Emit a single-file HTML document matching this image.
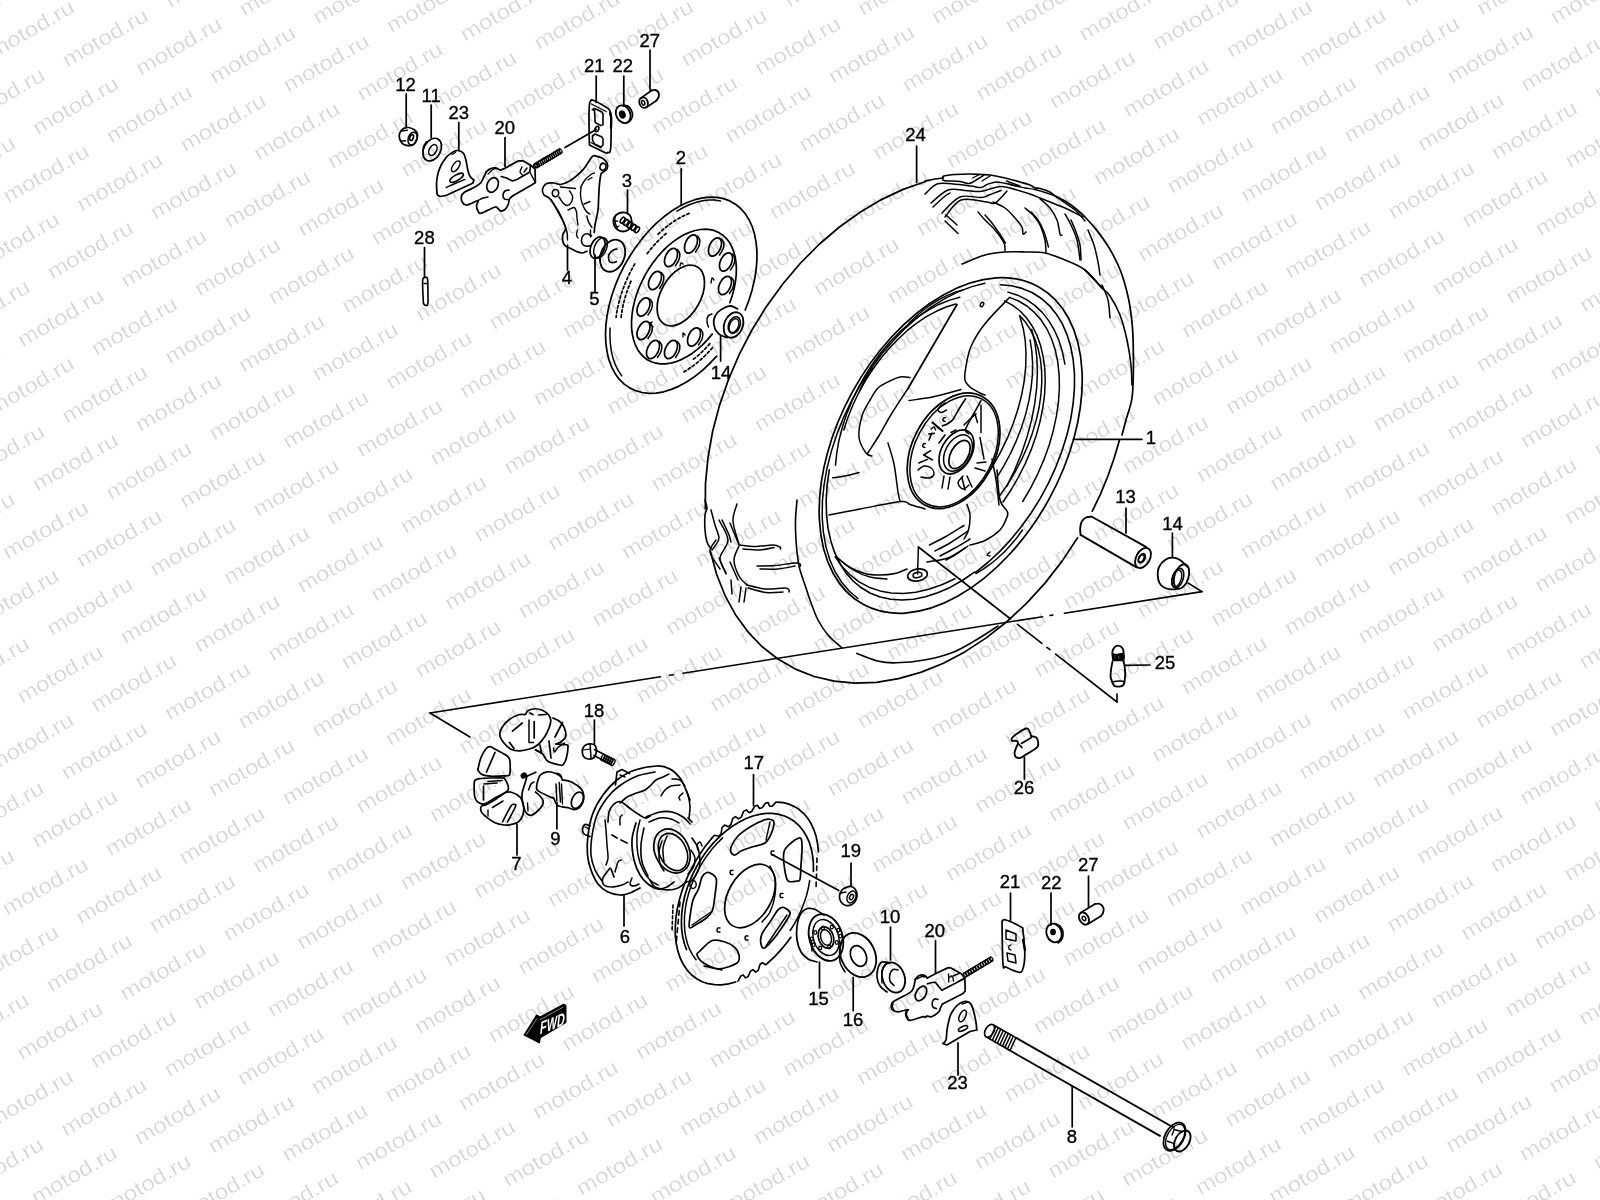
<!DOCTYPE html>
<html><head><meta charset="utf-8"><style>
html,body{margin:0;padding:0;background:#fff;width:1600px;height:1200px;overflow:hidden}
svg{position:absolute;left:0;top:0}
</style></head><body>
<svg width="1600" height="1200" viewBox="0 0 1600 1200" style="filter:grayscale(1)">
<rect width="1600" height="1200" fill="#fff"/>
<g font-family="Liberation Sans, sans-serif" font-size="21" fill="#d2d2d2" letter-spacing="0" stroke="#fff" stroke-width="0.35">
<text transform="translate(1511.5 -52.1) rotate(-30) scale(1.15 1)">motod.ru</text>
<text transform="translate(1585.2 -43.7) rotate(-30) scale(1.15 1)">motod.ru</text>
<text transform="translate(1658.8 -35.2) rotate(-30) scale(1.15 1)">motod.ru</text>
<text transform="translate(892.7 -51.8) rotate(-30) scale(1.15 1)">motod.ru</text>
<text transform="translate(966.3 -43.4) rotate(-30) scale(1.15 1)">motod.ru</text>
<text transform="translate(1040 -34.9) rotate(-30) scale(1.15 1)">motod.ru</text>
<text transform="translate(1113.7 -26.5) rotate(-30) scale(1.15 1)">motod.ru</text>
<text transform="translate(1187.3 -18) rotate(-30) scale(1.15 1)">motod.ru</text>
<text transform="translate(1261 -9.6) rotate(-30) scale(1.15 1)">motod.ru</text>
<text transform="translate(1334.6 -1.1) rotate(-30) scale(1.15 1)">motod.ru</text>
<text transform="translate(1408.3 7.3) rotate(-30) scale(1.15 1)">motod.ru</text>
<text transform="translate(1482 15.8) rotate(-30) scale(1.15 1)">motod.ru</text>
<text transform="translate(1555.6 24.2) rotate(-30) scale(1.15 1)">motod.ru</text>
<text transform="translate(1629.3 32.7) rotate(-30) scale(1.15 1)">motod.ru</text>
<text transform="translate(200.2 -60) rotate(-30) scale(1.15 1)">motod.ru</text>
<text transform="translate(273.8 -51.5) rotate(-30) scale(1.15 1)">motod.ru</text>
<text transform="translate(347.5 -43.1) rotate(-30) scale(1.15 1)">motod.ru</text>
<text transform="translate(421.2 -34.6) rotate(-30) scale(1.15 1)">motod.ru</text>
<text transform="translate(494.8 -26.2) rotate(-30) scale(1.15 1)">motod.ru</text>
<text transform="translate(568.5 -17.7) rotate(-30) scale(1.15 1)">motod.ru</text>
<text transform="translate(642.1 -9.3) rotate(-30) scale(1.15 1)">motod.ru</text>
<text transform="translate(715.8 -0.8) rotate(-30) scale(1.15 1)">motod.ru</text>
<text transform="translate(789.5 7.6) rotate(-30) scale(1.15 1)">motod.ru</text>
<text transform="translate(863.1 16.1) rotate(-30) scale(1.15 1)">motod.ru</text>
<text transform="translate(936.8 24.5) rotate(-30) scale(1.15 1)">motod.ru</text>
<text transform="translate(1010.4 33) rotate(-30) scale(1.15 1)">motod.ru</text>
<text transform="translate(1084.1 41.4) rotate(-30) scale(1.15 1)">motod.ru</text>
<text transform="translate(1157.8 49.9) rotate(-30) scale(1.15 1)">motod.ru</text>
<text transform="translate(1231.4 58.3) rotate(-30) scale(1.15 1)">motod.ru</text>
<text transform="translate(1305.1 66.8) rotate(-30) scale(1.15 1)">motod.ru</text>
<text transform="translate(1378.7 75.2) rotate(-30) scale(1.15 1)">motod.ru</text>
<text transform="translate(1452.4 83.7) rotate(-30) scale(1.15 1)">motod.ru</text>
<text transform="translate(1526.1 92.1) rotate(-30) scale(1.15 1)">motod.ru</text>
<text transform="translate(1599.7 100.6) rotate(-30) scale(1.15 1)">motod.ru</text>
<text transform="translate(1673.4 109) rotate(-30) scale(1.15 1)">motod.ru</text>
<text transform="translate(-50.4 -17.4) rotate(-30) scale(1.15 1)">motod.ru</text>
<text transform="translate(23.3 -9) rotate(-30) scale(1.15 1)">motod.ru</text>
<text transform="translate(97 -0.5) rotate(-30) scale(1.15 1)">motod.ru</text>
<text transform="translate(170.6 7.9) rotate(-30) scale(1.15 1)">motod.ru</text>
<text transform="translate(244.3 16.4) rotate(-30) scale(1.15 1)">motod.ru</text>
<text transform="translate(317.9 24.8) rotate(-30) scale(1.15 1)">motod.ru</text>
<text transform="translate(391.6 33.3) rotate(-30) scale(1.15 1)">motod.ru</text>
<text transform="translate(465.3 41.7) rotate(-30) scale(1.15 1)">motod.ru</text>
<text transform="translate(538.9 50.2) rotate(-30) scale(1.15 1)">motod.ru</text>
<text transform="translate(612.6 58.6) rotate(-30) scale(1.15 1)">motod.ru</text>
<text transform="translate(686.2 67.1) rotate(-30) scale(1.15 1)">motod.ru</text>
<text transform="translate(759.9 75.5) rotate(-30) scale(1.15 1)">motod.ru</text>
<text transform="translate(833.6 84) rotate(-30) scale(1.15 1)">motod.ru</text>
<text transform="translate(907.2 92.4) rotate(-30) scale(1.15 1)">motod.ru</text>
<text transform="translate(980.9 100.9) rotate(-30) scale(1.15 1)">motod.ru</text>
<text transform="translate(1054.5 109.3) rotate(-30) scale(1.15 1)">motod.ru</text>
<text transform="translate(1128.2 117.8) rotate(-30) scale(1.15 1)">motod.ru</text>
<text transform="translate(1201.9 126.2) rotate(-30) scale(1.15 1)">motod.ru</text>
<text transform="translate(1275.5 134.7) rotate(-30) scale(1.15 1)">motod.ru</text>
<text transform="translate(1349.2 143.1) rotate(-30) scale(1.15 1)">motod.ru</text>
<text transform="translate(1422.8 151.6) rotate(-30) scale(1.15 1)">motod.ru</text>
<text transform="translate(1496.5 160) rotate(-30) scale(1.15 1)">motod.ru</text>
<text transform="translate(1570.2 168.5) rotate(-30) scale(1.15 1)">motod.ru</text>
<text transform="translate(1643.8 176.9) rotate(-30) scale(1.15 1)">motod.ru</text>
<text transform="translate(-79.9 50.5) rotate(-30) scale(1.15 1)">motod.ru</text>
<text transform="translate(-6.3 59) rotate(-30) scale(1.15 1)">motod.ru</text>
<text transform="translate(67.4 67.4) rotate(-30) scale(1.15 1)">motod.ru</text>
<text transform="translate(141.1 75.9) rotate(-30) scale(1.15 1)">motod.ru</text>
<text transform="translate(214.7 84.3) rotate(-30) scale(1.15 1)">motod.ru</text>
<text transform="translate(288.4 92.8) rotate(-30) scale(1.15 1)">motod.ru</text>
<text transform="translate(362 101.2) rotate(-30) scale(1.15 1)">motod.ru</text>
<text transform="translate(435.7 109.7) rotate(-30) scale(1.15 1)">motod.ru</text>
<text transform="translate(509.4 118.1) rotate(-30) scale(1.15 1)">motod.ru</text>
<text transform="translate(583 126.5) rotate(-30) scale(1.15 1)">motod.ru</text>
<text transform="translate(656.7 135) rotate(-30) scale(1.15 1)">motod.ru</text>
<text transform="translate(730.3 143.4) rotate(-30) scale(1.15 1)">motod.ru</text>
<text transform="translate(804 151.9) rotate(-30) scale(1.15 1)">motod.ru</text>
<text transform="translate(877.7 160.3) rotate(-30) scale(1.15 1)">motod.ru</text>
<text transform="translate(951.3 168.8) rotate(-30) scale(1.15 1)">motod.ru</text>
<text transform="translate(1025 177.2) rotate(-30) scale(1.15 1)">motod.ru</text>
<text transform="translate(1098.6 185.7) rotate(-30) scale(1.15 1)">motod.ru</text>
<text transform="translate(1172.3 194.1) rotate(-30) scale(1.15 1)">motod.ru</text>
<text transform="translate(1246 202.6) rotate(-30) scale(1.15 1)">motod.ru</text>
<text transform="translate(1319.6 211) rotate(-30) scale(1.15 1)">motod.ru</text>
<text transform="translate(1393.3 219.5) rotate(-30) scale(1.15 1)">motod.ru</text>
<text transform="translate(1466.9 227.9) rotate(-30) scale(1.15 1)">motod.ru</text>
<text transform="translate(1540.6 236.4) rotate(-30) scale(1.15 1)">motod.ru</text>
<text transform="translate(1614.3 244.8) rotate(-30) scale(1.15 1)">motod.ru</text>
<text transform="translate(-109.5 118.4) rotate(-30) scale(1.15 1)">motod.ru</text>
<text transform="translate(-35.8 126.9) rotate(-30) scale(1.15 1)">motod.ru</text>
<text transform="translate(37.8 135.3) rotate(-30) scale(1.15 1)">motod.ru</text>
<text transform="translate(111.5 143.8) rotate(-30) scale(1.15 1)">motod.ru</text>
<text transform="translate(185.2 152.2) rotate(-30) scale(1.15 1)">motod.ru</text>
<text transform="translate(258.8 160.7) rotate(-30) scale(1.15 1)">motod.ru</text>
<text transform="translate(332.5 169.1) rotate(-30) scale(1.15 1)">motod.ru</text>
<text transform="translate(406.1 177.6) rotate(-30) scale(1.15 1)">motod.ru</text>
<text transform="translate(479.8 186) rotate(-30) scale(1.15 1)">motod.ru</text>
<text transform="translate(553.5 194.5) rotate(-30) scale(1.15 1)">motod.ru</text>
<text transform="translate(627.1 202.9) rotate(-30) scale(1.15 1)">motod.ru</text>
<text transform="translate(700.8 211.4) rotate(-30) scale(1.15 1)">motod.ru</text>
<text transform="translate(774.4 219.8) rotate(-30) scale(1.15 1)">motod.ru</text>
<text transform="translate(848.1 228.3) rotate(-30) scale(1.15 1)">motod.ru</text>
<text transform="translate(921.8 236.7) rotate(-30) scale(1.15 1)">motod.ru</text>
<text transform="translate(995.4 245.2) rotate(-30) scale(1.15 1)">motod.ru</text>
<text transform="translate(1069.1 253.6) rotate(-30) scale(1.15 1)">motod.ru</text>
<text transform="translate(1142.7 262.1) rotate(-30) scale(1.15 1)">motod.ru</text>
<text transform="translate(1216.4 270.5) rotate(-30) scale(1.15 1)">motod.ru</text>
<text transform="translate(1290.1 279) rotate(-30) scale(1.15 1)">motod.ru</text>
<text transform="translate(1363.7 287.4) rotate(-30) scale(1.15 1)">motod.ru</text>
<text transform="translate(1437.4 295.9) rotate(-30) scale(1.15 1)">motod.ru</text>
<text transform="translate(1511 304.3) rotate(-30) scale(1.15 1)">motod.ru</text>
<text transform="translate(1584.7 312.8) rotate(-30) scale(1.15 1)">motod.ru</text>
<text transform="translate(1658.4 321.2) rotate(-30) scale(1.15 1)">motod.ru</text>
<text transform="translate(-65.4 194.8) rotate(-30) scale(1.15 1)">motod.ru</text>
<text transform="translate(8.3 203.2) rotate(-30) scale(1.15 1)">motod.ru</text>
<text transform="translate(81.9 211.7) rotate(-30) scale(1.15 1)">motod.ru</text>
<text transform="translate(155.6 220.1) rotate(-30) scale(1.15 1)">motod.ru</text>
<text transform="translate(229.3 228.6) rotate(-30) scale(1.15 1)">motod.ru</text>
<text transform="translate(302.9 237) rotate(-30) scale(1.15 1)">motod.ru</text>
<text transform="translate(376.6 245.5) rotate(-30) scale(1.15 1)">motod.ru</text>
<text transform="translate(450.2 253.9) rotate(-30) scale(1.15 1)">motod.ru</text>
<text transform="translate(523.9 262.4) rotate(-30) scale(1.15 1)">motod.ru</text>
<text transform="translate(597.6 270.8) rotate(-30) scale(1.15 1)">motod.ru</text>
<text transform="translate(671.2 279.3) rotate(-30) scale(1.15 1)">motod.ru</text>
<text transform="translate(744.9 287.7) rotate(-30) scale(1.15 1)">motod.ru</text>
<text transform="translate(818.5 296.2) rotate(-30) scale(1.15 1)">motod.ru</text>
<text transform="translate(892.2 304.6) rotate(-30) scale(1.15 1)">motod.ru</text>
<text transform="translate(965.9 313.1) rotate(-30) scale(1.15 1)">motod.ru</text>
<text transform="translate(1039.5 321.5) rotate(-30) scale(1.15 1)">motod.ru</text>
<text transform="translate(1113.2 330) rotate(-30) scale(1.15 1)">motod.ru</text>
<text transform="translate(1186.8 338.4) rotate(-30) scale(1.15 1)">motod.ru</text>
<text transform="translate(1260.5 346.9) rotate(-30) scale(1.15 1)">motod.ru</text>
<text transform="translate(1334.2 355.3) rotate(-30) scale(1.15 1)">motod.ru</text>
<text transform="translate(1407.8 363.8) rotate(-30) scale(1.15 1)">motod.ru</text>
<text transform="translate(1481.5 372.2) rotate(-30) scale(1.15 1)">motod.ru</text>
<text transform="translate(1555.1 380.7) rotate(-30) scale(1.15 1)">motod.ru</text>
<text transform="translate(1628.8 389.1) rotate(-30) scale(1.15 1)">motod.ru</text>
<text transform="translate(-94.9 262.7) rotate(-30) scale(1.15 1)">motod.ru</text>
<text transform="translate(-21.3 271.1) rotate(-30) scale(1.15 1)">motod.ru</text>
<text transform="translate(52.4 279.6) rotate(-30) scale(1.15 1)">motod.ru</text>
<text transform="translate(126 288) rotate(-30) scale(1.15 1)">motod.ru</text>
<text transform="translate(199.7 296.5) rotate(-30) scale(1.15 1)">motod.ru</text>
<text transform="translate(273.4 304.9) rotate(-30) scale(1.15 1)">motod.ru</text>
<text transform="translate(347 313.4) rotate(-30) scale(1.15 1)">motod.ru</text>
<text transform="translate(420.7 321.8) rotate(-30) scale(1.15 1)">motod.ru</text>
<text transform="translate(494.3 330.3) rotate(-30) scale(1.15 1)">motod.ru</text>
<text transform="translate(568 338.7) rotate(-30) scale(1.15 1)">motod.ru</text>
<text transform="translate(641.7 347.2) rotate(-30) scale(1.15 1)">motod.ru</text>
<text transform="translate(715.3 355.6) rotate(-30) scale(1.15 1)">motod.ru</text>
<text transform="translate(789 364.1) rotate(-30) scale(1.15 1)">motod.ru</text>
<text transform="translate(862.6 372.5) rotate(-30) scale(1.15 1)">motod.ru</text>
<text transform="translate(936.3 381) rotate(-30) scale(1.15 1)">motod.ru</text>
<text transform="translate(1010 389.4) rotate(-30) scale(1.15 1)">motod.ru</text>
<text transform="translate(1083.6 397.9) rotate(-30) scale(1.15 1)">motod.ru</text>
<text transform="translate(1157.3 406.3) rotate(-30) scale(1.15 1)">motod.ru</text>
<text transform="translate(1230.9 414.8) rotate(-30) scale(1.15 1)">motod.ru</text>
<text transform="translate(1304.6 423.2) rotate(-30) scale(1.15 1)">motod.ru</text>
<text transform="translate(1378.3 431.7) rotate(-30) scale(1.15 1)">motod.ru</text>
<text transform="translate(1451.9 440.1) rotate(-30) scale(1.15 1)">motod.ru</text>
<text transform="translate(1525.6 448.6) rotate(-30) scale(1.15 1)">motod.ru</text>
<text transform="translate(1599.2 457) rotate(-30) scale(1.15 1)">motod.ru</text>
<text transform="translate(1672.9 465.5) rotate(-30) scale(1.15 1)">motod.ru</text>
<text transform="translate(-50.8 339) rotate(-30) scale(1.15 1)">motod.ru</text>
<text transform="translate(22.8 347.5) rotate(-30) scale(1.15 1)">motod.ru</text>
<text transform="translate(96.5 355.9) rotate(-30) scale(1.15 1)">motod.ru</text>
<text transform="translate(170.1 364.4) rotate(-30) scale(1.15 1)">motod.ru</text>
<text transform="translate(243.8 372.8) rotate(-30) scale(1.15 1)">motod.ru</text>
<text transform="translate(317.5 381.3) rotate(-30) scale(1.15 1)">motod.ru</text>
<text transform="translate(391.1 389.7) rotate(-30) scale(1.15 1)">motod.ru</text>
<text transform="translate(464.8 398.2) rotate(-30) scale(1.15 1)">motod.ru</text>
<text transform="translate(538.4 406.6) rotate(-30) scale(1.15 1)">motod.ru</text>
<text transform="translate(612.1 415.1) rotate(-30) scale(1.15 1)">motod.ru</text>
<text transform="translate(685.8 423.5) rotate(-30) scale(1.15 1)">motod.ru</text>
<text transform="translate(759.4 432) rotate(-30) scale(1.15 1)">motod.ru</text>
<text transform="translate(833.1 440.4) rotate(-30) scale(1.15 1)">motod.ru</text>
<text transform="translate(906.7 448.9) rotate(-30) scale(1.15 1)">motod.ru</text>
<text transform="translate(980.4 457.3) rotate(-30) scale(1.15 1)">motod.ru</text>
<text transform="translate(1054.1 465.8) rotate(-30) scale(1.15 1)">motod.ru</text>
<text transform="translate(1127.7 474.2) rotate(-30) scale(1.15 1)">motod.ru</text>
<text transform="translate(1201.4 482.7) rotate(-30) scale(1.15 1)">motod.ru</text>
<text transform="translate(1275 491.1) rotate(-30) scale(1.15 1)">motod.ru</text>
<text transform="translate(1348.7 499.6) rotate(-30) scale(1.15 1)">motod.ru</text>
<text transform="translate(1422.4 508) rotate(-30) scale(1.15 1)">motod.ru</text>
<text transform="translate(1496 516.5) rotate(-30) scale(1.15 1)">motod.ru</text>
<text transform="translate(1569.7 524.9) rotate(-30) scale(1.15 1)">motod.ru</text>
<text transform="translate(1643.3 533.4) rotate(-30) scale(1.15 1)">motod.ru</text>
<text transform="translate(-80.4 406.9) rotate(-30) scale(1.15 1)">motod.ru</text>
<text transform="translate(-6.7 415.4) rotate(-30) scale(1.15 1)">motod.ru</text>
<text transform="translate(66.9 423.8) rotate(-30) scale(1.15 1)">motod.ru</text>
<text transform="translate(140.6 432.3) rotate(-30) scale(1.15 1)">motod.ru</text>
<text transform="translate(214.2 440.7) rotate(-30) scale(1.15 1)">motod.ru</text>
<text transform="translate(287.9 449.2) rotate(-30) scale(1.15 1)">motod.ru</text>
<text transform="translate(361.6 457.6) rotate(-30) scale(1.15 1)">motod.ru</text>
<text transform="translate(435.2 466.1) rotate(-30) scale(1.15 1)">motod.ru</text>
<text transform="translate(508.9 474.5) rotate(-30) scale(1.15 1)">motod.ru</text>
<text transform="translate(582.5 483) rotate(-30) scale(1.15 1)">motod.ru</text>
<text transform="translate(656.2 491.4) rotate(-30) scale(1.15 1)">motod.ru</text>
<text transform="translate(729.9 499.9) rotate(-30) scale(1.15 1)">motod.ru</text>
<text transform="translate(803.5 508.3) rotate(-30) scale(1.15 1)">motod.ru</text>
<text transform="translate(877.2 516.8) rotate(-30) scale(1.15 1)">motod.ru</text>
<text transform="translate(950.8 525.2) rotate(-30) scale(1.15 1)">motod.ru</text>
<text transform="translate(1024.5 533.7) rotate(-30) scale(1.15 1)">motod.ru</text>
<text transform="translate(1098.2 542.1) rotate(-30) scale(1.15 1)">motod.ru</text>
<text transform="translate(1171.8 550.6) rotate(-30) scale(1.15 1)">motod.ru</text>
<text transform="translate(1245.5 559) rotate(-30) scale(1.15 1)">motod.ru</text>
<text transform="translate(1319.1 567.5) rotate(-30) scale(1.15 1)">motod.ru</text>
<text transform="translate(1392.8 575.9) rotate(-30) scale(1.15 1)">motod.ru</text>
<text transform="translate(1466.5 584.4) rotate(-30) scale(1.15 1)">motod.ru</text>
<text transform="translate(1540.1 592.8) rotate(-30) scale(1.15 1)">motod.ru</text>
<text transform="translate(1613.8 601.3) rotate(-30) scale(1.15 1)">motod.ru</text>
<text transform="translate(-110 474.9) rotate(-30) scale(1.15 1)">motod.ru</text>
<text transform="translate(-36.3 483.3) rotate(-30) scale(1.15 1)">motod.ru</text>
<text transform="translate(37.4 491.8) rotate(-30) scale(1.15 1)">motod.ru</text>
<text transform="translate(111 500.2) rotate(-30) scale(1.15 1)">motod.ru</text>
<text transform="translate(184.7 508.7) rotate(-30) scale(1.15 1)">motod.ru</text>
<text transform="translate(258.3 517.1) rotate(-30) scale(1.15 1)">motod.ru</text>
<text transform="translate(332 525.6) rotate(-30) scale(1.15 1)">motod.ru</text>
<text transform="translate(405.7 534) rotate(-30) scale(1.15 1)">motod.ru</text>
<text transform="translate(479.3 542.5) rotate(-30) scale(1.15 1)">motod.ru</text>
<text transform="translate(553 550.9) rotate(-30) scale(1.15 1)">motod.ru</text>
<text transform="translate(626.6 559.4) rotate(-30) scale(1.15 1)">motod.ru</text>
<text transform="translate(700.3 567.8) rotate(-30) scale(1.15 1)">motod.ru</text>
<text transform="translate(774 576.3) rotate(-30) scale(1.15 1)">motod.ru</text>
<text transform="translate(847.6 584.7) rotate(-30) scale(1.15 1)">motod.ru</text>
<text transform="translate(921.3 593.2) rotate(-30) scale(1.15 1)">motod.ru</text>
<text transform="translate(994.9 601.6) rotate(-30) scale(1.15 1)">motod.ru</text>
<text transform="translate(1068.6 610.1) rotate(-30) scale(1.15 1)">motod.ru</text>
<text transform="translate(1142.3 618.5) rotate(-30) scale(1.15 1)">motod.ru</text>
<text transform="translate(1215.9 627) rotate(-30) scale(1.15 1)">motod.ru</text>
<text transform="translate(1289.6 635.4) rotate(-30) scale(1.15 1)">motod.ru</text>
<text transform="translate(1363.2 643.9) rotate(-30) scale(1.15 1)">motod.ru</text>
<text transform="translate(1436.9 652.3) rotate(-30) scale(1.15 1)">motod.ru</text>
<text transform="translate(1510.6 660.8) rotate(-30) scale(1.15 1)">motod.ru</text>
<text transform="translate(1584.2 669.2) rotate(-30) scale(1.15 1)">motod.ru</text>
<text transform="translate(1657.9 677.7) rotate(-30) scale(1.15 1)">motod.ru</text>
<text transform="translate(-65.9 551.2) rotate(-30) scale(1.15 1)">motod.ru</text>
<text transform="translate(7.8 559.7) rotate(-30) scale(1.15 1)">motod.ru</text>
<text transform="translate(81.5 568.1) rotate(-30) scale(1.15 1)">motod.ru</text>
<text transform="translate(155.1 576.6) rotate(-30) scale(1.15 1)">motod.ru</text>
<text transform="translate(228.8 585) rotate(-30) scale(1.15 1)">motod.ru</text>
<text transform="translate(302.4 593.5) rotate(-30) scale(1.15 1)">motod.ru</text>
<text transform="translate(376.1 601.9) rotate(-30) scale(1.15 1)">motod.ru</text>
<text transform="translate(449.8 610.4) rotate(-30) scale(1.15 1)">motod.ru</text>
<text transform="translate(523.4 618.8) rotate(-30) scale(1.15 1)">motod.ru</text>
<text transform="translate(597.1 627.3) rotate(-30) scale(1.15 1)">motod.ru</text>
<text transform="translate(670.7 635.7) rotate(-30) scale(1.15 1)">motod.ru</text>
<text transform="translate(744.4 644.2) rotate(-30) scale(1.15 1)">motod.ru</text>
<text transform="translate(818.1 652.6) rotate(-30) scale(1.15 1)">motod.ru</text>
<text transform="translate(891.7 661.1) rotate(-30) scale(1.15 1)">motod.ru</text>
<text transform="translate(965.4 669.5) rotate(-30) scale(1.15 1)">motod.ru</text>
<text transform="translate(1039 678) rotate(-30) scale(1.15 1)">motod.ru</text>
<text transform="translate(1112.7 686.4) rotate(-30) scale(1.15 1)">motod.ru</text>
<text transform="translate(1186.4 694.9) rotate(-30) scale(1.15 1)">motod.ru</text>
<text transform="translate(1260 703.3) rotate(-30) scale(1.15 1)">motod.ru</text>
<text transform="translate(1333.7 711.8) rotate(-30) scale(1.15 1)">motod.ru</text>
<text transform="translate(1407.3 720.2) rotate(-30) scale(1.15 1)">motod.ru</text>
<text transform="translate(1481 728.7) rotate(-30) scale(1.15 1)">motod.ru</text>
<text transform="translate(1554.7 737.1) rotate(-30) scale(1.15 1)">motod.ru</text>
<text transform="translate(1628.3 745.6) rotate(-30) scale(1.15 1)">motod.ru</text>
<text transform="translate(-95.4 619.1) rotate(-30) scale(1.15 1)">motod.ru</text>
<text transform="translate(-21.8 627.6) rotate(-30) scale(1.15 1)">motod.ru</text>
<text transform="translate(51.9 636) rotate(-30) scale(1.15 1)">motod.ru</text>
<text transform="translate(125.6 644.5) rotate(-30) scale(1.15 1)">motod.ru</text>
<text transform="translate(199.2 652.9) rotate(-30) scale(1.15 1)">motod.ru</text>
<text transform="translate(272.9 661.4) rotate(-30) scale(1.15 1)">motod.ru</text>
<text transform="translate(346.5 669.8) rotate(-30) scale(1.15 1)">motod.ru</text>
<text transform="translate(420.2 678.3) rotate(-30) scale(1.15 1)">motod.ru</text>
<text transform="translate(493.9 686.7) rotate(-30) scale(1.15 1)">motod.ru</text>
<text transform="translate(567.5 695.2) rotate(-30) scale(1.15 1)">motod.ru</text>
<text transform="translate(641.2 703.6) rotate(-30) scale(1.15 1)">motod.ru</text>
<text transform="translate(714.8 712.1) rotate(-30) scale(1.15 1)">motod.ru</text>
<text transform="translate(788.5 720.5) rotate(-30) scale(1.15 1)">motod.ru</text>
<text transform="translate(862.2 729) rotate(-30) scale(1.15 1)">motod.ru</text>
<text transform="translate(935.8 737.4) rotate(-30) scale(1.15 1)">motod.ru</text>
<text transform="translate(1009.5 745.9) rotate(-30) scale(1.15 1)">motod.ru</text>
<text transform="translate(1083.1 754.3) rotate(-30) scale(1.15 1)">motod.ru</text>
<text transform="translate(1156.8 762.8) rotate(-30) scale(1.15 1)">motod.ru</text>
<text transform="translate(1230.5 771.2) rotate(-30) scale(1.15 1)">motod.ru</text>
<text transform="translate(1304.1 779.7) rotate(-30) scale(1.15 1)">motod.ru</text>
<text transform="translate(1377.8 788.1) rotate(-30) scale(1.15 1)">motod.ru</text>
<text transform="translate(1451.4 796.6) rotate(-30) scale(1.15 1)">motod.ru</text>
<text transform="translate(1525.1 805) rotate(-30) scale(1.15 1)">motod.ru</text>
<text transform="translate(1598.8 813.5) rotate(-30) scale(1.15 1)">motod.ru</text>
<text transform="translate(1672.4 821.9) rotate(-30) scale(1.15 1)">motod.ru</text>
<text transform="translate(-51.3 695.5) rotate(-30) scale(1.15 1)">motod.ru</text>
<text transform="translate(22.3 703.9) rotate(-30) scale(1.15 1)">motod.ru</text>
<text transform="translate(96 712.4) rotate(-30) scale(1.15 1)">motod.ru</text>
<text transform="translate(169.7 720.8) rotate(-30) scale(1.15 1)">motod.ru</text>
<text transform="translate(243.3 729.3) rotate(-30) scale(1.15 1)">motod.ru</text>
<text transform="translate(317 737.7) rotate(-30) scale(1.15 1)">motod.ru</text>
<text transform="translate(390.6 746.2) rotate(-30) scale(1.15 1)">motod.ru</text>
<text transform="translate(464.3 754.6) rotate(-30) scale(1.15 1)">motod.ru</text>
<text transform="translate(538 763.1) rotate(-30) scale(1.15 1)">motod.ru</text>
<text transform="translate(611.6 771.5) rotate(-30) scale(1.15 1)">motod.ru</text>
<text transform="translate(685.3 780) rotate(-30) scale(1.15 1)">motod.ru</text>
<text transform="translate(758.9 788.4) rotate(-30) scale(1.15 1)">motod.ru</text>
<text transform="translate(832.6 796.9) rotate(-30) scale(1.15 1)">motod.ru</text>
<text transform="translate(906.3 805.3) rotate(-30) scale(1.15 1)">motod.ru</text>
<text transform="translate(979.9 813.8) rotate(-30) scale(1.15 1)">motod.ru</text>
<text transform="translate(1053.6 822.2) rotate(-30) scale(1.15 1)">motod.ru</text>
<text transform="translate(1127.2 830.7) rotate(-30) scale(1.15 1)">motod.ru</text>
<text transform="translate(1200.9 839.1) rotate(-30) scale(1.15 1)">motod.ru</text>
<text transform="translate(1274.6 847.6) rotate(-30) scale(1.15 1)">motod.ru</text>
<text transform="translate(1348.2 856) rotate(-30) scale(1.15 1)">motod.ru</text>
<text transform="translate(1421.9 864.5) rotate(-30) scale(1.15 1)">motod.ru</text>
<text transform="translate(1495.5 872.9) rotate(-30) scale(1.15 1)">motod.ru</text>
<text transform="translate(1569.2 881.4) rotate(-30) scale(1.15 1)">motod.ru</text>
<text transform="translate(1642.9 889.8) rotate(-30) scale(1.15 1)">motod.ru</text>
<text transform="translate(-80.9 763.4) rotate(-30) scale(1.15 1)">motod.ru</text>
<text transform="translate(-7.2 771.8) rotate(-30) scale(1.15 1)">motod.ru</text>
<text transform="translate(66.4 780.3) rotate(-30) scale(1.15 1)">motod.ru</text>
<text transform="translate(140.1 788.7) rotate(-30) scale(1.15 1)">motod.ru</text>
<text transform="translate(213.8 797.2) rotate(-30) scale(1.15 1)">motod.ru</text>
<text transform="translate(287.4 805.6) rotate(-30) scale(1.15 1)">motod.ru</text>
<text transform="translate(361.1 814.1) rotate(-30) scale(1.15 1)">motod.ru</text>
<text transform="translate(434.7 822.5) rotate(-30) scale(1.15 1)">motod.ru</text>
<text transform="translate(508.4 831) rotate(-30) scale(1.15 1)">motod.ru</text>
<text transform="translate(582.1 839.4) rotate(-30) scale(1.15 1)">motod.ru</text>
<text transform="translate(655.7 847.9) rotate(-30) scale(1.15 1)">motod.ru</text>
<text transform="translate(729.4 856.3) rotate(-30) scale(1.15 1)">motod.ru</text>
<text transform="translate(803 864.8) rotate(-30) scale(1.15 1)">motod.ru</text>
<text transform="translate(876.7 873.2) rotate(-30) scale(1.15 1)">motod.ru</text>
<text transform="translate(950.4 881.7) rotate(-30) scale(1.15 1)">motod.ru</text>
<text transform="translate(1024 890.1) rotate(-30) scale(1.15 1)">motod.ru</text>
<text transform="translate(1097.7 898.6) rotate(-30) scale(1.15 1)">motod.ru</text>
<text transform="translate(1171.3 907) rotate(-30) scale(1.15 1)">motod.ru</text>
<text transform="translate(1245 915.5) rotate(-30) scale(1.15 1)">motod.ru</text>
<text transform="translate(1318.7 923.9) rotate(-30) scale(1.15 1)">motod.ru</text>
<text transform="translate(1392.3 932.4) rotate(-30) scale(1.15 1)">motod.ru</text>
<text transform="translate(1466 940.8) rotate(-30) scale(1.15 1)">motod.ru</text>
<text transform="translate(1539.6 949.3) rotate(-30) scale(1.15 1)">motod.ru</text>
<text transform="translate(1613.3 957.7) rotate(-30) scale(1.15 1)">motod.ru</text>
<text transform="translate(-110.4 831.3) rotate(-30) scale(1.15 1)">motod.ru</text>
<text transform="translate(-36.8 839.8) rotate(-30) scale(1.15 1)">motod.ru</text>
<text transform="translate(36.9 848.2) rotate(-30) scale(1.15 1)">motod.ru</text>
<text transform="translate(110.5 856.7) rotate(-30) scale(1.15 1)">motod.ru</text>
<text transform="translate(184.2 865.1) rotate(-30) scale(1.15 1)">motod.ru</text>
<text transform="translate(257.9 873.6) rotate(-30) scale(1.15 1)">motod.ru</text>
<text transform="translate(331.5 882) rotate(-30) scale(1.15 1)">motod.ru</text>
<text transform="translate(405.2 890.5) rotate(-30) scale(1.15 1)">motod.ru</text>
<text transform="translate(478.8 898.9) rotate(-30) scale(1.15 1)">motod.ru</text>
<text transform="translate(552.5 907.4) rotate(-30) scale(1.15 1)">motod.ru</text>
<text transform="translate(626.2 915.8) rotate(-30) scale(1.15 1)">motod.ru</text>
<text transform="translate(699.8 924.3) rotate(-30) scale(1.15 1)">motod.ru</text>
<text transform="translate(773.5 932.7) rotate(-30) scale(1.15 1)">motod.ru</text>
<text transform="translate(847.1 941.2) rotate(-30) scale(1.15 1)">motod.ru</text>
<text transform="translate(920.8 949.6) rotate(-30) scale(1.15 1)">motod.ru</text>
<text transform="translate(994.5 958.1) rotate(-30) scale(1.15 1)">motod.ru</text>
<text transform="translate(1068.1 966.5) rotate(-30) scale(1.15 1)">motod.ru</text>
<text transform="translate(1141.8 975) rotate(-30) scale(1.15 1)">motod.ru</text>
<text transform="translate(1215.4 983.4) rotate(-30) scale(1.15 1)">motod.ru</text>
<text transform="translate(1289.1 991.9) rotate(-30) scale(1.15 1)">motod.ru</text>
<text transform="translate(1362.8 1000.3) rotate(-30) scale(1.15 1)">motod.ru</text>
<text transform="translate(1436.4 1008.8) rotate(-30) scale(1.15 1)">motod.ru</text>
<text transform="translate(1510.1 1017.2) rotate(-30) scale(1.15 1)">motod.ru</text>
<text transform="translate(1583.7 1025.7) rotate(-30) scale(1.15 1)">motod.ru</text>
<text transform="translate(1657.4 1034.1) rotate(-30) scale(1.15 1)">motod.ru</text>
<text transform="translate(-66.3 907.7) rotate(-30) scale(1.15 1)">motod.ru</text>
<text transform="translate(7.3 916.1) rotate(-30) scale(1.15 1)">motod.ru</text>
<text transform="translate(81 924.6) rotate(-30) scale(1.15 1)">motod.ru</text>
<text transform="translate(154.6 933) rotate(-30) scale(1.15 1)">motod.ru</text>
<text transform="translate(228.3 941.5) rotate(-30) scale(1.15 1)">motod.ru</text>
<text transform="translate(302 949.9) rotate(-30) scale(1.15 1)">motod.ru</text>
<text transform="translate(375.6 958.4) rotate(-30) scale(1.15 1)">motod.ru</text>
<text transform="translate(449.3 966.8) rotate(-30) scale(1.15 1)">motod.ru</text>
<text transform="translate(522.9 975.3) rotate(-30) scale(1.15 1)">motod.ru</text>
<text transform="translate(596.6 983.7) rotate(-30) scale(1.15 1)">motod.ru</text>
<text transform="translate(670.3 992.2) rotate(-30) scale(1.15 1)">motod.ru</text>
<text transform="translate(743.9 1000.6) rotate(-30) scale(1.15 1)">motod.ru</text>
<text transform="translate(817.6 1009.1) rotate(-30) scale(1.15 1)">motod.ru</text>
<text transform="translate(891.2 1017.5) rotate(-30) scale(1.15 1)">motod.ru</text>
<text transform="translate(964.9 1026) rotate(-30) scale(1.15 1)">motod.ru</text>
<text transform="translate(1038.6 1034.4) rotate(-30) scale(1.15 1)">motod.ru</text>
<text transform="translate(1112.2 1042.9) rotate(-30) scale(1.15 1)">motod.ru</text>
<text transform="translate(1185.9 1051.3) rotate(-30) scale(1.15 1)">motod.ru</text>
<text transform="translate(1259.5 1059.8) rotate(-30) scale(1.15 1)">motod.ru</text>
<text transform="translate(1333.2 1068.2) rotate(-30) scale(1.15 1)">motod.ru</text>
<text transform="translate(1406.9 1076.7) rotate(-30) scale(1.15 1)">motod.ru</text>
<text transform="translate(1480.5 1085.1) rotate(-30) scale(1.15 1)">motod.ru</text>
<text transform="translate(1554.2 1093.6) rotate(-30) scale(1.15 1)">motod.ru</text>
<text transform="translate(1627.8 1102) rotate(-30) scale(1.15 1)">motod.ru</text>
<text transform="translate(-95.9 975.6) rotate(-30) scale(1.15 1)">motod.ru</text>
<text transform="translate(-22.2 984) rotate(-30) scale(1.15 1)">motod.ru</text>
<text transform="translate(51.4 992.5) rotate(-30) scale(1.15 1)">motod.ru</text>
<text transform="translate(125.1 1000.9) rotate(-30) scale(1.15 1)">motod.ru</text>
<text transform="translate(198.7 1009.4) rotate(-30) scale(1.15 1)">motod.ru</text>
<text transform="translate(272.4 1017.8) rotate(-30) scale(1.15 1)">motod.ru</text>
<text transform="translate(346.1 1026.3) rotate(-30) scale(1.15 1)">motod.ru</text>
<text transform="translate(419.7 1034.7) rotate(-30) scale(1.15 1)">motod.ru</text>
<text transform="translate(493.4 1043.2) rotate(-30) scale(1.15 1)">motod.ru</text>
<text transform="translate(567 1051.6) rotate(-30) scale(1.15 1)">motod.ru</text>
<text transform="translate(640.7 1060.1) rotate(-30) scale(1.15 1)">motod.ru</text>
<text transform="translate(714.4 1068.5) rotate(-30) scale(1.15 1)">motod.ru</text>
<text transform="translate(788 1077) rotate(-30) scale(1.15 1)">motod.ru</text>
<text transform="translate(861.7 1085.4) rotate(-30) scale(1.15 1)">motod.ru</text>
<text transform="translate(935.3 1093.9) rotate(-30) scale(1.15 1)">motod.ru</text>
<text transform="translate(1009 1102.3) rotate(-30) scale(1.15 1)">motod.ru</text>
<text transform="translate(1082.7 1110.8) rotate(-30) scale(1.15 1)">motod.ru</text>
<text transform="translate(1156.3 1119.2) rotate(-30) scale(1.15 1)">motod.ru</text>
<text transform="translate(1230 1127.7) rotate(-30) scale(1.15 1)">motod.ru</text>
<text transform="translate(1303.6 1136.1) rotate(-30) scale(1.15 1)">motod.ru</text>
<text transform="translate(1377.3 1144.6) rotate(-30) scale(1.15 1)">motod.ru</text>
<text transform="translate(1451 1153) rotate(-30) scale(1.15 1)">motod.ru</text>
<text transform="translate(1524.6 1161.5) rotate(-30) scale(1.15 1)">motod.ru</text>
<text transform="translate(1598.3 1169.9) rotate(-30) scale(1.15 1)">motod.ru</text>
<text transform="translate(1671.9 1178.4) rotate(-30) scale(1.15 1)">motod.ru</text>
<text transform="translate(-51.8 1051.9) rotate(-30) scale(1.15 1)">motod.ru</text>
<text transform="translate(21.9 1060.4) rotate(-30) scale(1.15 1)">motod.ru</text>
<text transform="translate(95.5 1068.8) rotate(-30) scale(1.15 1)">motod.ru</text>
<text transform="translate(169.2 1077.3) rotate(-30) scale(1.15 1)">motod.ru</text>
<text transform="translate(242.8 1085.7) rotate(-30) scale(1.15 1)">motod.ru</text>
<text transform="translate(316.5 1094.2) rotate(-30) scale(1.15 1)">motod.ru</text>
<text transform="translate(390.2 1102.6) rotate(-30) scale(1.15 1)">motod.ru</text>
<text transform="translate(463.8 1111.1) rotate(-30) scale(1.15 1)">motod.ru</text>
<text transform="translate(537.5 1119.5) rotate(-30) scale(1.15 1)">motod.ru</text>
<text transform="translate(611.1 1128) rotate(-30) scale(1.15 1)">motod.ru</text>
<text transform="translate(684.8 1136.4) rotate(-30) scale(1.15 1)">motod.ru</text>
<text transform="translate(758.5 1144.9) rotate(-30) scale(1.15 1)">motod.ru</text>
<text transform="translate(832.1 1153.3) rotate(-30) scale(1.15 1)">motod.ru</text>
<text transform="translate(905.8 1161.8) rotate(-30) scale(1.15 1)">motod.ru</text>
<text transform="translate(979.4 1170.2) rotate(-30) scale(1.15 1)">motod.ru</text>
<text transform="translate(1053.1 1178.7) rotate(-30) scale(1.15 1)">motod.ru</text>
<text transform="translate(1126.8 1187.1) rotate(-30) scale(1.15 1)">motod.ru</text>
<text transform="translate(1200.4 1195.6) rotate(-30) scale(1.15 1)">motod.ru</text>
<text transform="translate(1274.1 1204) rotate(-30) scale(1.15 1)">motod.ru</text>
<text transform="translate(1347.7 1212.5) rotate(-30) scale(1.15 1)">motod.ru</text>
<text transform="translate(1421.4 1220.9) rotate(-30) scale(1.15 1)">motod.ru</text>
<text transform="translate(1495.1 1229.4) rotate(-30) scale(1.15 1)">motod.ru</text>
<text transform="translate(1568.7 1237.8) rotate(-30) scale(1.15 1)">motod.ru</text>
<text transform="translate(1642.4 1246.3) rotate(-30) scale(1.15 1)">motod.ru</text>
<text transform="translate(-81.4 1119.8) rotate(-30) scale(1.15 1)">motod.ru</text>
<text transform="translate(-7.7 1128.3) rotate(-30) scale(1.15 1)">motod.ru</text>
<text transform="translate(66 1136.8) rotate(-30) scale(1.15 1)">motod.ru</text>
<text transform="translate(139.6 1145.2) rotate(-30) scale(1.15 1)">motod.ru</text>
<text transform="translate(213.3 1153.7) rotate(-30) scale(1.15 1)">motod.ru</text>
<text transform="translate(286.9 1162.1) rotate(-30) scale(1.15 1)">motod.ru</text>
<text transform="translate(360.6 1170.5) rotate(-30) scale(1.15 1)">motod.ru</text>
<text transform="translate(434.3 1179) rotate(-30) scale(1.15 1)">motod.ru</text>
<text transform="translate(507.9 1187.5) rotate(-30) scale(1.15 1)">motod.ru</text>
<text transform="translate(581.6 1195.9) rotate(-30) scale(1.15 1)">motod.ru</text>
<text transform="translate(655.2 1204.3) rotate(-30) scale(1.15 1)">motod.ru</text>
<text transform="translate(728.9 1212.8) rotate(-30) scale(1.15 1)">motod.ru</text>
<text transform="translate(802.6 1221.2) rotate(-30) scale(1.15 1)">motod.ru</text>
<text transform="translate(876.2 1229.7) rotate(-30) scale(1.15 1)">motod.ru</text>
<text transform="translate(949.9 1238.2) rotate(-30) scale(1.15 1)">motod.ru</text>
<text transform="translate(1023.5 1246.6) rotate(-30) scale(1.15 1)">motod.ru</text>
<text transform="translate(1097.2 1255) rotate(-30) scale(1.15 1)">motod.ru</text>
<text transform="translate(1170.9 1263.5) rotate(-30) scale(1.15 1)">motod.ru</text>
<text transform="translate(1244.5 1272) rotate(-30) scale(1.15 1)">motod.ru</text>
<text transform="translate(1318.2 1280.4) rotate(-30) scale(1.15 1)">motod.ru</text>
<text transform="translate(1391.8 1288.8) rotate(-30) scale(1.15 1)">motod.ru</text>
<text transform="translate(-110.9 1187.8) rotate(-30) scale(1.15 1)">motod.ru</text>
<text transform="translate(-37.3 1196.2) rotate(-30) scale(1.15 1)">motod.ru</text>
<text transform="translate(36.4 1204.7) rotate(-30) scale(1.15 1)">motod.ru</text>
<text transform="translate(110.1 1213.1) rotate(-30) scale(1.15 1)">motod.ru</text>
<text transform="translate(183.7 1221.6) rotate(-30) scale(1.15 1)">motod.ru</text>
<text transform="translate(257.4 1230) rotate(-30) scale(1.15 1)">motod.ru</text>
<text transform="translate(331 1238.5) rotate(-30) scale(1.15 1)">motod.ru</text>
<text transform="translate(404.7 1246.9) rotate(-30) scale(1.15 1)">motod.ru</text>
<text transform="translate(478.4 1255.4) rotate(-30) scale(1.15 1)">motod.ru</text>
<text transform="translate(552 1263.8) rotate(-30) scale(1.15 1)">motod.ru</text>
<text transform="translate(625.7 1272.3) rotate(-30) scale(1.15 1)">motod.ru</text>
<text transform="translate(699.3 1280.7) rotate(-30) scale(1.15 1)">motod.ru</text>
<text transform="translate(773 1289.2) rotate(-30) scale(1.15 1)">motod.ru</text>
<text transform="translate(-66.8 1264.1) rotate(-30) scale(1.15 1)">motod.ru</text>
<text transform="translate(6.8 1272.6) rotate(-30) scale(1.15 1)">motod.ru</text>
<text transform="translate(80.5 1281) rotate(-30) scale(1.15 1)">motod.ru</text>
<text transform="translate(154.2 1289.5) rotate(-30) scale(1.15 1)">motod.ru</text>
</g>
<g fill="none" stroke="#000" stroke-width="1.5" stroke-linecap="round" stroke-linejoin="round">
<path d="M406.2 93.8L406.2 127.5" stroke-width="1.72"/>
<path d="M431.2 105L431.2 137.5" stroke-width="1.72"/>
<path d="M458.8 122.5L458.8 150" stroke-width="1.72"/>
<path d="M505 137.5L505 166.2" stroke-width="1.72"/>
<path d="M596.2 76.2L596.2 102.5" stroke-width="1.72"/>
<path d="M623.8 76.2L623.8 106.2" stroke-width="1.72"/>
<path d="M650 50L650 90" stroke-width="1.72"/>
<path d="M681.2 168.8L681.2 205" stroke-width="1.72"/>
<path d="M627.5 190L627.5 213.8" stroke-width="1.72"/>
<path d="M424.5 247.5L424.5 277.5" stroke-width="1.72"/>
<path d="M567.5 245L567.5 270" stroke-width="1.72"/>
<path d="M595 255L595 291.2" stroke-width="1.72"/>
<path d="M916.6 146L916.6 182.5" stroke-width="1.72"/>
<path d="M1073.4 439.4L1141.9 439.4" stroke-width="1.72"/>
<path d="M1126 508L1126 533" stroke-width="1.72"/>
<path d="M1172.4 533L1172.4 557" stroke-width="1.72"/>
<path d="M1125 665.4L1150 665" stroke-width="1.72"/>
<path d="M925 181.8 L903.1 189.4 L881.4 199.6 L860.1 212.2 L839.4 227 L819.5 244 L800.6 263 L783 283.7 L766.8 305.9 L752.2 329.5 L739.4 354.1 L728.5 379.5 L719.5 405.4 L712.6 431.5 L708 457.6 L705.5 483.4 L705.3 508.7" stroke-width="1.72"/>
<path d="M710.5 551.7 L716.6 574.3 L724.9 595.3 L735.3 614.4 L747.7 631.6 L761.9 646.5 L777.9 659 L795.4 669.1 L814.2 676.5 L834.1 681.2 L855 683.2 L876.5 682.3 L898.5 678.7 L920.7 672.4 L942.9 663.5 L964.8 651.9 L986.2 637.9 L1006.8 621.7 L1026.5 603.3 L1045 583.1 L1062.1 561.1 L1077.6 537.7" stroke-width="1.72"/>
<path d="M1092.3 511.2 L1100.6 493.8 L1107.9 476 L1114.2 458 L1119.5 439.9" stroke-width="1.72"/>
<path d="M705 500C705.3 501.3 707 505.5 707 508C707 510.5 705.3 511.3 705 515C704.7 518.7 704.7 525.5 705 530C705.3 534.5 706 538.8 707 542C708 545.2 710.3 547.8 711 549" stroke-width="1.61"/>
<path d="M943 178C943.2 177.7 942 176.6 944 176C946 175.4 950.7 174.8 955 174.5C959.3 174.2 965.7 174 970 174C974.3 174 977.7 174.3 981 174.5C984.3 174.7 986 174.4 990 175C994 175.6 1000 176.8 1005 178C1010 179.2 1015.8 180.8 1020 182C1024.2 183.2 1027.5 184 1030 185C1032.5 186 1033.3 187.4 1035 188C1036.7 188.6 1037.5 187.8 1040 188.5C1042.5 189.2 1047.5 190.8 1050 192C1052.5 193.2 1052.5 194.5 1055 196C1057.5 197.5 1061.7 199 1065 201C1068.3 203 1071.7 205.3 1075 208C1078.3 210.7 1081.3 213.2 1085 217C1088.7 220.8 1092.8 225.2 1097 230.6C1101.2 236 1106 242.5 1110 249.4C1114 256.3 1117.9 263.6 1121 272C1124.1 280.4 1126.8 290.7 1128.8 300C1130.7 309.3 1131.7 318.7 1132.5 328C1133.3 337.3 1133.2 349 1133.4 356C1133.6 363 1133.6 363 1133.4 370C1133.2 377 1133.2 389.7 1132 398C1130.8 406.3 1127.7 413.8 1126 420C1124.3 426.2 1122.7 432.5 1122 435" stroke-width="1.72"/>
<path d="M925 181C926.7 180.7 932 179.5 935 179C938 178.5 941.7 178.2 943 178" stroke-width="1.72"/>
<path d="M943 178C943.2 178.4 941.2 179.9 944 180.5C946.8 181.1 955.8 181 960 181.5C964.2 182 966.2 183.8 969 183.5C971.8 183.2 974.5 180.9 977 179.5C979.5 178.1 982.8 175.8 984 175" stroke-width="1.49"/>
<path d="M925 194C927 192.3 932.3 185.7 937 184C941.7 182.3 947.3 183.7 953 184C958.7 184.3 966.3 185.4 971 186C975.7 186.6 978.3 187.8 981 187.5C983.7 187.2 984.3 185.4 987 184.5C989.7 183.6 993.2 182 997 182C1000.8 182 1005.3 183.5 1010 184.5C1014.7 185.5 1020.8 187.2 1025 188C1029.2 188.8 1030.8 188.5 1035 189.5C1039.2 190.5 1046.3 192.8 1050 194C1053.7 195.2 1055.8 196.5 1057 197" stroke-width="1.49"/>
<path d="M931 203C933.8 200.8 942.3 192.1 948 190C953.7 187.9 959.7 190.2 965 190.5C970.3 190.8 975.8 191.8 980 191.5C984.2 191.2 986.7 189.8 990 189C993.3 188.2 997 186.8 1000 186.5C1003 186.2 1003 186.2 1008 187.5C1013 188.8 1024.7 192.2 1030 194C1035.3 195.8 1035.8 196.3 1040 198C1044.2 199.7 1050.8 202.3 1055 204C1059.2 205.7 1060.3 205.8 1065 208C1069.7 210.2 1080 215.5 1083 217" stroke-width="1.49"/>
<path d="M933 207C934.8 205.3 941.2 199.3 944 197C946.8 194.7 949 193.7 950 193" stroke-width="1.49"/>
<path d="M942 213C945 210.3 953.5 199.6 960 197C966.5 194.4 976.2 197.8 981 197.5C985.8 197.2 985.7 196.2 989 195C992.3 193.8 999 191.2 1001 190.5" stroke-width="1.49"/>
<path d="M945 217C947.7 214.2 954 202.5 961 200C968 197.5 981.3 201.5 987 202C992.7 202.5 991.7 204.8 995 203C998.3 201.2 1005 193 1007 191" stroke-width="1.49"/>
<path d="M945 221L958 233.5" stroke-width="1.49"/>
<path d="M946 215L957 225" stroke-width="1.49"/>
<path d="M972.5 178L979.5 174.5" stroke-width="1.38"/>
<path d="M982 181L990 176" stroke-width="1.38"/>
<path d="M1006.5 181L1020 186" stroke-width="1.38"/>
<path d="M1009 184L1018 186.5" stroke-width="1.38"/>
<path d="M978 212C979.2 213.3 982.2 217 985 220C987.8 223 991.8 226.2 995 230C998.2 233.8 1002.3 239.5 1004 243C1005.7 246.5 1004.8 249.7 1005 251" stroke-width="1.49"/>
<path d="M985 215C986.2 216.3 989.7 220 992 223C994.3 226 996.8 229.7 999 233C1001.2 236.3 1004.4 241.3 1005.5 243" stroke-width="1.49"/>
<path d="M993 202C995 203 1001.3 205.3 1005 208C1008.7 210.7 1012.2 214.8 1015 218C1017.8 221.2 1020.7 224.3 1022 227C1023.3 229.7 1022.3 233.2 1023 234C1023.7 234.8 1025.5 232.3 1026 232" stroke-width="1.49"/>
<path d="M1025 208C1026.3 209.2 1030.5 212.2 1033 215C1035.5 217.8 1038 220.8 1040 225C1042 229.2 1044 235.5 1045 240C1046 244.5 1045.8 250 1046 252" stroke-width="1.49"/>
<path d="M1031 212C1032.2 213.3 1035.8 216.7 1038 220C1040.2 223.3 1042.2 227.5 1044 232C1045.8 236.5 1047.8 244.5 1048.5 247" stroke-width="1.49"/>
<path d="M1040 199C1041.7 200.5 1047.2 204.5 1050 208C1052.8 211.5 1055.3 215.7 1057 220C1058.7 224.3 1059.2 231.5 1060 234C1060.8 236.5 1061.7 234.8 1062 235" stroke-width="1.49"/>
<path d="M1065 214C1066 215.8 1069 220.7 1071 225C1073 229.3 1075.5 234.2 1077 240C1078.5 245.8 1079.5 256.7 1080 260" stroke-width="1.49"/>
<path d="M1071 220C1071.8 222 1074.5 227.8 1076 232C1077.5 236.2 1079.2 240.3 1080 245C1080.8 249.7 1080.8 257.5 1081 260" stroke-width="1.49"/>
<path d="M1058 198C1060.8 200 1070.5 206.2 1075 210C1079.5 213.8 1083.3 219.2 1085 221" stroke-width="1.49"/>
<path d="M1088 230C1089 232.5 1092.3 239.7 1094 245C1095.7 250.3 1097 257 1098 262C1099 267 1099.7 272.8 1100 275" stroke-width="1.49"/>
<path d="M1102 285C1103 287.5 1106.7 294.5 1108 300C1109.3 305.5 1109.7 315 1110 318" stroke-width="1.49"/>
<path d="M1085 270L1102 288" stroke-width="1.49"/>
<path d="M1085 270L1102 287.5" stroke-width="1.49"/>
<path d="M962 264C965.8 262.5 977.8 257 985 255C992.2 253 998.3 252.5 1005 252C1011.7 251.5 1018.3 251.8 1025 252C1031.7 252.2 1038.3 251.7 1045 253C1051.7 254.3 1058.3 257.2 1065 260C1071.7 262.8 1078.8 265.3 1085 270C1091.2 274.7 1097.8 283.7 1102 288C1106.2 292.3 1107 291.5 1110 296C1113 300.5 1117.2 307.7 1120 315C1122.8 322.3 1125.2 331.7 1127 340C1128.8 348.3 1130.2 357.5 1131 365C1131.8 372.5 1131.8 381.7 1132 385" stroke-width="1.61"/>
<path d="M711 510C711.7 512.5 713.7 520.3 715 525C716.3 529.7 719 534.5 719 538C719 541.5 716.2 544 715 546C713.8 548 712.5 549.3 712 550" stroke-width="1.49"/>
<path d="M719 520C720.5 523.3 727.8 533.7 728 540C728.2 546.3 720.3 552.5 720 558C719.7 563.5 725 570.5 726 573" stroke-width="1.49"/>
<path d="M722 520C723.2 522.5 727.5 531.3 729 535C730.5 538.7 730.7 540.8 731 542" stroke-width="1.49"/>
<path d="M730 523L739 545" stroke-width="1.49"/>
<path d="M737 504C736.3 506.8 732.7 514.3 733 521C733.3 527.7 738 540.2 739 544" stroke-width="1.49"/>
<path d="M739 546C738.2 548.3 734 555 734 560C734 565 736.8 571.8 739 576C741.2 580.2 745.7 583.5 747 585" stroke-width="1.49"/>
<path d="M730 562L738 580" stroke-width="1.49"/>
<path d="M716 540C715 542 709.3 547.2 710 552C710.7 556.8 718.3 566.2 720 569" stroke-width="1.49"/>
<path d="M719 558L726 574" stroke-width="1.49"/>
<path d="M731 580L732 594" stroke-width="1.49"/>
<path d="M741 587L739 602" stroke-width="1.49"/>
<path d="M746 588L744 602" stroke-width="1.49"/>
<path d="M740 545C742.5 545.2 749.5 546.5 755 546.5C760.5 546.5 768.8 544.9 773 545C777.2 545.1 778.8 546.3 780 547C781.2 547.7 780.4 548.7 780.5 549" stroke-width="1.49"/>
<path d="M743 549C745.8 549.2 754.8 550.2 760 550C765.2 549.8 771.7 547.9 774 547.5" stroke-width="1.49"/>
<path d="M757 566C760 565.9 768.7 566 775 565.5C781.3 565 790.8 563.2 795 563C799.2 562.8 799.1 563.5 800 564C800.9 564.5 800.4 565.7 800.5 566" stroke-width="1.49"/>
<path d="M760 569C763 569 772.2 569.5 778 569C783.8 568.5 792.2 566.5 795 566" stroke-width="1.49"/>
<path d="M747 585C750 585.7 758.7 588.5 765 589C771.3 589.5 781 587.8 785 588C789 588.2 788.3 589.3 789 590C789.7 590.7 789 591.7 789 592" stroke-width="1.49"/>
<path d="M748 588C751 588.8 760.2 591.8 766 592.5C771.8 593.2 780.2 592.1 783 592" stroke-width="1.49"/>
<path d="M797 500C796.8 503.3 795.7 513.3 795.5 520C795.3 526.7 795.6 533.3 796 540C796.4 546.7 797.3 555 798 560C798.7 565 798.8 565.8 800 570C801.2 574.2 803.3 580 805 585C806.7 590 807.8 594.2 810 600C812.2 605.8 815 614.2 818 620C821 625.8 824 630.3 828 635C832 639.7 839.7 645.8 842 648" stroke-width="1.61"/>
<path d="M856.9 653.4C860.3 654.7 871 659.4 877.5 661C884 662.6 888.2 663 896 662.8C903.8 662.6 915 661.7 924.4 660C933.8 658.3 943.9 655.8 952.5 652.5C961.1 649.2 968.4 644.4 976 640C983.6 635.6 994.3 628.3 998 626" stroke-width="1.61"/>
<ellipse cx="950.7" cy="445.5" rx="181.4" ry="112" transform="rotate(-61.1 950.7 445.5)" stroke-width="1.72"/>
<path d="M984.9 283.3 L971.9 286.6 L958.5 291.6 L945.2 298.3 L931.8 306.6 L918.7 316.4 L905.9 327.6 L893.6 340.2 L881.9 353.8 L871 368.5 L861 384 L851.9 400.2 L843.8 416.9 L837 433.9 L831.4 451.1 L827 468.2 L824 485.1 L822.4 501.5 L822.2 517.4 L823.4 532.4 L825.9 546.6 L829.8 559.7 L835 571.5 L841.5 582 L849.1 591 L857.9 598.5" stroke-width="1.49"/>
<path d="M1000.4 284.8 L1011.6 285.8 L1022.1 288.4 L1032 292.5 L1041 298.2 L1049.1 305.3 L1056.2 313.9 L1062.2 323.7 L1067.1 334.8 L1070.8 347 L1073.2 360.1 L1074.5 374.1 L1074.4 388.8 L1073.1 404 L1070.6 419.7 L1066.8 435.5 L1061.8 451.5 L1055.7 467.3 L1048.6 482.9 L1040.4 498.1 L1031.3 512.7 L1021.4 526.5 L1010.8 539.6 L999.6 551.6 L987.9 562.5 L975.8 572.2" stroke-width="1.61"/>
<path d="M1008 292.1 L1017.6 295.2 L1026.6 299.6 L1034.8 305.4 L1042.2 312.4 L1048.7 320.6 L1054.3 330 L1058.9 340.4 L1062.4 351.8 L1064.9 364.1" stroke-width="1.49"/>
<path d="M1009.4 297.4 L1018.5 301 L1026.9 306 L1034.4 312.4 L1041.1 320 L1046.8 328.8 L1051.5 338.8 L1055.2 349.7 L1057.7 361.6 L1059.1 374.2 L1059.4 387.6 L1058.5 401.4 L1056.5 415.7 L1053.4 430.2 L1049.3 444.8 L1044 459.4 L1037.8 473.8 L1030.7 487.9 L1022.7 501.5" stroke-width="1.49"/>
<path d="M1004.6 300.9 L1012.7 305.3 L1020.1 311 L1026.6 318 L1032.3 326.2 L1037 335.4 L1040.6 345.6 L1043.2 356.8 L1044.8 368.7 L1045.2 381.2 L1044.6 394.3 L1042.8 407.8 L1040 421.6 L1036.2 435.5 L1031.3 449.4 L1025.5 463.1 L1018.8 476.5 L1011.3 489.5 L1003 502" stroke-width="1.49"/>
<path d="M1019.6 315.6 L1025.6 322.3 L1030.7 330.1 L1034.9 338.9 L1038.1 348.7 L1040.4 359.3 L1041.6 370.5 L1041.8 382.4 L1040.9 394.8 L1039.1 407.5 L1036.2 420.4 L1032.3 433.4 L1027.5 446.4 L1021.8 459.2 L1015.3 471.6 L1008.1 483.7 L1000.1 495.1" stroke-width="1.49"/>
<path d="M1031.7 329.4 L1034.9 342.7 L1036.8 357 L1037.4 372 L1036.7 387.7 L1034.7 403.9 L1031.5 420.4 L1027 437 L1021.4 453.7 L1014.6 470.2 L1006.8 486.4" stroke-width="1.49"/>
<path d="M1030.1 339.9 L1031.8 351.1 L1032.6 362.9 L1032.4 375.2 L1031.1 387.9 L1028.9 400.9 L1025.7 414.1 L1021.5 427.4 L1016.4 440.6 L1010.5 453.5 L1003.7 466.2 L996.3 478.4" stroke-width="1.49"/>
<path d="M1020 317 L1023.2 328.2 L1025.2 340.3 L1026 353.1 L1025.7 366.6 L1024.3 380.5 L1021.7 394.7 L1018 409.1 L1013.2 423.5 L1007.5 437.9 L1000.7 451.9 L993.1 465.5 L984.6 478.6" stroke-width="1.49"/>
<path d="M959.8 297.3 L949.7 300.1 L939.4 304.2 L929.2 309.6 L919 316.1 L909 323.7 L899.3 332.4 L889.9 342 L881 352.5 L872.7 363.7 L865.1 375.6 L858.2 387.9 L852.1 400.6 L846.8 413.6 L842.5 426.7 L839.1 439.7 L836.8 452.6 L835.5 465.2" stroke-width="1.49"/>
<path d="M955.8 304 L946.1 307 L936.3 311.3 L926.4 316.7 L916.7 323.2 L907.1 330.7 L897.9 339.2 L889 348.6 L880.5 358.7 L872.6 369.5 L865.3 380.9 L858.7 392.8 L852.9 405 L847.9 417.5 L843.8 430" stroke-width="1.49"/>
<path d="M963 290 L955.2 292.2 L947.4 295.4 L939.5 299.3 L931.7 304.1 L923.9 309.7 L916.4 316 L909 323" stroke-width="1.38"/>
<path d="M873 368 L869.3 373.1 L865.8 378.6 L862.7 384.2 L860 390" stroke-width="1.38"/>
<path d="M829.3 469.9 L827.1 485.3 L826.2 500.2 L826.5 514.5 L828 528.2 L830.8 540.9 L834.7 552.7 L839.8 563.4 L845.9 572.9 L853.1 581 L861.3 587.8 L870.4 593.2 L880.2 597 L890.8 599.3 L901.9 600 L913.5 599.2 L925.5 596.8 L937.7 592.8 L950 587.4 L962.3 580.5 L974.5 572.2" stroke-width="1.61"/>
<path d="M835.2 556.7 L842.1 566.5 L850.1 574.9 L859.1 581.8 L869 587.2 L879.8 590.9 L891.2 593 L903.3 593.4 L915.8 592.2 L928.7 589.3 L941.8 584.8 L955 578.7" stroke-width="1.49"/>
<path d="M976 573.5 L983.2 569.2 L990.3 564.2 L997.2 558.5 L1004 552.2 L1010.5 545.3 L1016.7 537.9 L1022.5 530" stroke-width="1.49"/>
<path d="M929.5 545C932.1 543.7 939.2 540.2 945 537C950.8 533.8 960.8 527.4 964 525.5" stroke-width="1.49"/>
<path d="M935 551C937.5 549.7 944.5 546.3 950 543C955.5 539.7 965 533 968 531" stroke-width="1.49"/>
<path d="M940 556C942.5 554.7 950 550.8 955 548C960 545.2 967.5 540.5 970 539" stroke-width="1.49"/>
<path d="M946 560C948 558.8 954.3 555.3 958 553C961.7 550.7 966.3 547.2 968 546" stroke-width="1.49"/>
<path d="M927 562C930.5 561.3 941.7 560.3 948 558C954.3 555.7 962.2 549.7 965 548" stroke-width="1.49"/>
<path d="M957 304.5L908 388.5" stroke-width="1.72"/>
<path d="M908 388.5C905.3 392.6 896.7 405.4 892 413C887.3 420.6 884 427.3 880 434C876 440.7 869.8 449.8 867.8 453"/>
<path d="M1009.5 297.5C1005.4 301.9 991.4 315.6 985 323.8C978.6 331.9 974.2 339.2 971 346.5C967.8 353.8 966.8 361.9 965.8 367.5C964.8 373.1 964.3 376.8 965 380C965.7 383.2 967.5 384.8 970 387C972.5 389.2 977.5 391.7 980 393C982.5 394.3 984.2 394.7 985 395"/>
<path d="M909 400.5C912.9 399.9 923.8 398.8 932.5 397C941.2 395.2 956.2 390.8 961 389.5"/>
<path d="M870 400C871.3 398 874.7 391.2 878 388C881.3 384.8 886.3 382.8 890 381C893.7 379.2 896.7 377.6 900 377C903.3 376.4 908.3 377.4 910 377.5"/>
<path d="M870 400C868.7 402.7 863.8 409.8 862 416C860.2 422.2 858.3 431.3 859 437.5C859.7 443.7 863.8 449.9 866 453C868.2 456.1 871 455.5 872 456"/>
<path d="M888 443C889 446.5 892.3 455.8 894 464C895.7 472.2 897 485.8 898 492C899 498.2 899.7 499.5 900 501"/>
<path d="M832.8 477.8C834.8 477.5 840.6 476.9 845 476C849.4 475.1 856.7 473.1 859 472.5"/>
<path d="M829 515C834.2 514 848 511.2 860 509C872 506.8 892.7 502.2 901 501.5C909.3 500.8 906 503.2 910 504.5C914 505.8 922.5 508.2 925 509"/>
<path d="M836.5 557C838.8 558.8 845.2 564.8 850 567.5C854.8 570.2 860 572.2 865 573.5C870 574.8 875 575 880 575C885 575 890.5 574.5 895 573.5C899.5 572.5 905 569.8 907 569" stroke-width="1.61"/>
<path d="M840 560C842.5 561.8 850 568.2 855 571C860 573.8 864.7 575.7 870 577C875.3 578.3 884.2 578.7 887 579" stroke-width="1.38"/>
<path d="M997 470C997.5 475 998.2 493 1000 500C1001.8 507 1006.5 508.8 1007.5 512C1008.5 515.2 1007.2 516.5 1006 519.5C1004.8 522.5 1003.5 526.5 1000 530C996.5 533.5 990 538 985 540.5C980 543 972.5 544.2 970 545" stroke-width="1.61"/>
<path d="M992 459C992.7 462.5 994.8 472.3 996 480C997.2 487.7 998.5 500.8 999 505" stroke-width="1.49"/>
<path d="M967 504.5C967.5 506.2 969.8 510.8 970 515C970.2 519.2 969.5 526 968.5 530C967.5 534 964.8 537.5 964 539" stroke-width="1.49"/>
<ellipse cx="982" cy="304.5" rx="1.5" ry="2.3" transform="rotate(30 982 304.5)" stroke-width="1.49"/>
<path d="M990 552C989.5 552.5 987 554.3 987 555C987 555.7 989.5 555.8 990 556" stroke-width="1.38"/>
<ellipse cx="917.5" cy="575" rx="10" ry="6" transform="rotate(-10 917.5 575)" stroke-width="1.72"/>
<ellipse cx="917.5" cy="575" rx="4.5" ry="2.6" transform="rotate(-10 917.5 575)" stroke-width="1.49"/>
<ellipse cx="953.6" cy="450.8" rx="61.4" ry="41.3" transform="rotate(-62.4 953.6 450.8)" stroke-width="1.72"/>
<ellipse cx="954.1" cy="451.3" rx="59.2" ry="39.1" transform="rotate(-62.4 954.1 451.3)" stroke-width="1.49"/>
<ellipse cx="956.5" cy="452" rx="23.7" ry="15.1" transform="rotate(-61 956.5 452)" stroke-width="1.72"/>
<ellipse cx="958" cy="453" rx="19.5" ry="12.5" transform="rotate(-61 958 453)" stroke-width="1.49"/>
<ellipse cx="959.5" cy="454.5" rx="15.5" ry="8.7" transform="rotate(-61 959.5 454.5)" stroke-width="1.72"/>
<path d="M965.6 398.8C964.5 400.5 961.1 405.6 959 409C956.9 412.4 954.8 417 953 419.4C951.2 421.8 949.8 422.4 948 423.5C946.2 424.6 943.4 425.6 942.5 426" stroke-width="1.61"/>
<path d="M981 400.6C979.7 403 975.6 410.2 973 415C970.4 419.8 966.3 426.3 965.6 429.4C964.9 432.5 968.2 433 968.8 433.8" stroke-width="1.61"/>
<path d="M976 413.8C975 414.6 972 417.1 970 419C968 420.9 965 424 964 425" stroke-width="1.49"/>
<path d="M975 414L977.5 422.5" stroke-width="1.49"/>
<path d="M981 405.6L981 432.5" stroke-width="1.49"/>
<path d="M980 437.5L984 459" stroke-width="1.49"/>
<path d="M932.5 422.5L942.5 431" stroke-width="2.07"/>
<path d="M928.8 434 L934.4 433.4" stroke-width="1.61"/>
<path d="M931.5 433.6L929 440" stroke-width="1.61"/>
<path d="M951 432.5L956 430" stroke-width="1.61"/>
<path d="M939 443L945 435" stroke-width="1.61"/>
<path d="M923.8 455L930.6 450.6" stroke-width="1.49"/>
<path d="M923.8 455L932.5 460" stroke-width="1.49"/>
<path d="M918.8 463L927.5 459.4" stroke-width="1.49"/>
<path d="M945.4 403C944.7 403.4 942.2 404.3 941 405.5C939.8 406.7 937.9 408.8 938 410C938.1 411.2 940.1 412.5 941.5 412.5C942.9 412.5 945.7 410.4 946.5 410" stroke-width="1.49"/>
<path d="M945.6 417.6C945.3 417.7 944 417.5 943.6 418C943.2 418.5 942.8 419.9 943 420.5C943.2 421.1 944.7 421.3 945 421.5" stroke-width="1.49"/>
<path d="M925.4 443.5C925.1 443.6 923.8 443.5 923.4 444C923 444.5 922.6 445.9 922.8 446.5C923 447.1 924.5 447.3 924.8 447.5" stroke-width="1.49"/>
<path d="M918 470C919 469.3 921.8 466.3 924 466C926.2 465.7 929.3 466.7 931 468C932.7 469.3 934.3 472.3 934 474C933.7 475.7 931.2 477.5 929 478C926.8 478.5 922.3 477.2 921 477" stroke-width="1.49"/>
<path d="M944 476L942 488" stroke-width="1.49"/>
<path d="M950 477L948 489" stroke-width="1.49"/>
<path d="M962 478L965 490" stroke-width="1.49"/>
<path d="M967 476L972 487" stroke-width="1.49"/>
<path d="M975 468L985 471" stroke-width="1.49"/>
<path d="M977 463L986 462" stroke-width="1.49"/>
<path d="M931 429C931.5 428.7 933.2 426.8 934 427C934.8 427.2 935.2 429.5 935.5 430" stroke-width="1.38"/>
<path d="M963 476C962.2 477.2 958 480.8 958 483C958 485.2 961.2 488.7 963 489C964.8 489.3 968 485.7 969 485" stroke-width="1.49"/>
<path d="M430 713L660.5 676.8" stroke-width="1.61"/>
<path d="M669.5 675.3L673.3 674.7" stroke-width="1.61"/>
<path d="M683 673.2L1042.5 616.7" stroke-width="1.61"/>
<path d="M1050 615.5L1052.6 615.1" stroke-width="1.61"/>
<path d="M1064.4 613.2L1202 591.6" stroke-width="1.61"/>
<path d="M1202 591.6L1188 583" stroke-width="1.61"/>
<path d="M430 713L470 737" stroke-width="1.61"/>
<path d="M917.6 574L918.4 547" stroke-width="1.49"/>
<path d="M918.4 547L1010.6 619" stroke-width="1.61"/>
<path d="M1017.5 624.3L1041.9 643.4" stroke-width="1.61"/>
<path d="M1046.9 647.3L1050 649.7" stroke-width="1.61"/>
<path d="M1055.6 654.1L1117 702" stroke-width="1.61"/>
<path d="M1117 694L1117 702" stroke-width="1.61"/>
<path d="M399.4 134.4C399.7 133.2 400.4 131.7 401.2 130.6C402.1 129.5 403.1 128.6 404.4 128.1C405.6 127.6 407.2 127.3 408.8 127.5C410.3 127.7 412.4 128.6 413.8 129.4C415.1 130.2 416.3 131.4 416.9 132.5C417.5 133.6 417.6 134.9 417.5 136.2C417.4 137.6 416.9 139.2 416.2 140.6C415.6 142 415 143.6 413.8 144.4C412.5 145.2 410.4 145.6 408.8 145.6C407.1 145.6 405.1 145.1 403.8 144.4C402.4 143.7 401.3 142.4 400.6 141.2C399.9 140.1 399.6 138.6 399.4 137.5C399.2 136.4 399.1 135.6 399.4 134.4Z" stroke-width="1.72"/>
<ellipse cx="412.6" cy="138.6" rx="4.3" ry="6.6" transform="rotate(20 412.6 138.6)" stroke-width="1.61"/>
<ellipse cx="411.6" cy="137.6" rx="1.7" ry="3" transform="rotate(20 411.6 137.6)" stroke-width="1.61"/>
<path d="M401.2 131L407.5 130.2" stroke-width="1.38"/>
<path d="M400.8 141L405.6 140.8" stroke-width="1.38"/>
<ellipse cx="432.2" cy="149.6" rx="8.4" ry="12" transform="rotate(28 432.2 149.6)" stroke-width="1.72"/>
<ellipse cx="432.9" cy="150" rx="3.6" ry="5.8" transform="rotate(28 432.9 150)" stroke-width="1.61"/>
<path d="M423.5 155C423.5 153.7 422.8 149.2 423.3 147C423.8 144.8 426 142.4 426.5 141.5" stroke-width="1.38"/>
<path d="M436.9 192.5C436.8 190.8 436.4 185.7 436.6 182.5C436.8 179.3 437.3 176 438.1 173.1C438.9 170.2 439.9 167.6 441.2 165C442.6 162.4 444.6 159.5 446.2 157.5C447.9 155.5 449.6 154.2 451.2 153.1C452.9 151.9 454.7 150.9 456.2 150.6C457.8 150.3 459.4 150.7 460.6 151.2C461.9 151.8 462.9 152.5 463.8 153.8C464.6 155 465.1 156.9 465.6 158.8C466.1 160.6 466.5 162.9 466.9 165C467.3 167.1 467.6 169.4 468.1 171.2C468.6 173.1 469.1 174.8 470 176.2C470.9 177.7 473.1 179.4 473.8 180" stroke-width="1.72"/>
<path d="M473.8 180 L473 183 L471 184 L446 195.5 L440 196.5 L437.5 195 L436.9 192.5" stroke-width="1.72"/>
<path d="M446.2 187.5C447.7 186.8 451.9 184.8 455 183.5C458.1 182.2 463.3 180.1 465 179.4" stroke-width="1.38"/>
<ellipse cx="455.8" cy="166.3" rx="2.9" ry="6.2" transform="rotate(35 455.8 166.3)" stroke-width="1.61"/>
<ellipse cx="456.6" cy="177.8" rx="7.6" ry="2.8" transform="rotate(-30 456.6 177.8)" stroke-width="1.61"/>
<path d="M452 154.5L455.5 152.5" stroke-width="1.38"/>
<path d="M486.2 172C486.9 171.5 488.5 169.7 490 169C491.5 168.3 493.5 167.7 495.2 167.9C497 168.1 499.6 169.7 500.5 170.1" stroke-width="1.72"/>
<path d="M500.5 170.1 L505 168.2 L518.5 160.8 L523 160.8 L530.5 165.2 L535 169 L535.4 182.5 L532 184.8 L512.5 196" stroke-width="1.72"/>
<path d="M512.5 196C512 196.5 510.2 197.5 509.5 199C508.8 200.5 508.8 203.2 508 205C507.2 206.8 506.2 208.5 505 209.5C503.8 210.5 501.8 211.2 500.5 211C499.2 210.8 498.5 208.6 497.5 208C496.5 207.4 497.2 206.4 494.5 207.2C491.8 208.1 483.8 212.6 481 213.2C478.2 213.9 478.8 212.2 478 211C477.2 209.8 476.5 207.5 476.5 205.8C476.5 204 478.9 200.9 478 200.5C477.1 200.1 473.2 202.8 471.2 203.5C469.2 204.2 467.5 205.2 466 205C464.5 204.8 463 203.5 462.2 202C461.5 200.5 461.1 197.6 461.5 196C461.9 194.4 462.2 193.8 464.5 192.2C466.8 190.8 472.2 188.6 475 187C477.8 185.4 479.5 184.2 481 182.5C482.5 180.8 483.1 178.2 484 176.5C484.9 174.8 485.9 172.8 486.2 172" stroke-width="1.72"/>
<path d="M501.2 176.5 L506.5 178 L512.5 181 L517 179.5 L529.8 172 L530.5 165.2" stroke-width="1.61"/>
<path d="M529.8 172L535.4 182.5" stroke-width="1.38"/>
<ellipse cx="492.6" cy="185" rx="5.4" ry="7.6" transform="rotate(25 492.6 185)" stroke-width="1.72"/>
<path d="M509 190C508.3 190.2 506 190.2 505 191C504 191.8 503.1 193.7 503 195C502.9 196.3 503.7 198.2 504.5 199C505.3 199.8 507.4 199.4 508 199.5" stroke-width="1.61"/>
<path d="M488 174C488.8 173.2 491.6 170.4 493 169.5C494.4 168.6 495.9 168.7 496.5 168.5" stroke-width="1.38"/>
<path d="M478 200.5C478.8 200.1 481.3 198.6 483 198C484.7 197.4 487.2 197.2 488 197" stroke-width="1.38"/>
<path d="M522 167C521.7 167.8 519.9 170.7 520 172C520.1 173.3 522.1 174.5 522.5 175" stroke-width="1.38"/>
<path d="M524 172L527 168" stroke-width="1.38"/>
<ellipse cx="536" cy="165.5" rx="1.1" ry="2.6" transform="rotate(-30.6 536 165.5)" stroke-width="1.26"/>
<ellipse cx="537.9" cy="164.4" rx="1.1" ry="2.6" transform="rotate(-30.6 537.9 164.4)" stroke-width="1.26"/>
<ellipse cx="539.8" cy="163.3" rx="1.1" ry="2.6" transform="rotate(-30.6 539.8 163.3)" stroke-width="1.26"/>
<ellipse cx="541.7" cy="162.2" rx="1.1" ry="2.6" transform="rotate(-30.6 541.7 162.2)" stroke-width="1.26"/>
<ellipse cx="543.5" cy="161" rx="1.1" ry="2.6" transform="rotate(-30.6 543.5 161)" stroke-width="1.26"/>
<ellipse cx="545.4" cy="159.9" rx="1.1" ry="2.6" transform="rotate(-30.6 545.4 159.9)" stroke-width="1.26"/>
<ellipse cx="547.3" cy="158.8" rx="1.1" ry="2.6" transform="rotate(-30.6 547.3 158.8)" stroke-width="1.26"/>
<ellipse cx="549.2" cy="157.7" rx="1.1" ry="2.6" transform="rotate(-30.6 549.2 157.7)" stroke-width="1.26"/>
<ellipse cx="551.1" cy="156.6" rx="1.1" ry="2.6" transform="rotate(-30.6 551.1 156.6)" stroke-width="1.26"/>
<ellipse cx="553" cy="155.5" rx="1.1" ry="2.6" transform="rotate(-30.6 553 155.5)" stroke-width="1.26"/>
<ellipse cx="554.8" cy="154.3" rx="1.1" ry="2.6" transform="rotate(-30.6 554.8 154.3)" stroke-width="1.26"/>
<ellipse cx="556.7" cy="153.2" rx="1.1" ry="2.6" transform="rotate(-30.6 556.7 153.2)" stroke-width="1.26"/>
<ellipse cx="558.6" cy="152.1" rx="1.1" ry="2.6" transform="rotate(-30.6 558.6 152.1)" stroke-width="1.26"/>
<ellipse cx="560.5" cy="151" rx="1.1" ry="2.6" transform="rotate(-30.6 560.5 151)" stroke-width="1.26"/>
<path d="M535.5 163.5L560 149.4" stroke-width="1.15"/>
<path d="M537 167.8L561.2 153.2" stroke-width="1.15"/>
<ellipse cx="535.8" cy="165.6" rx="1.8" ry="2.4" transform="rotate(60 535.8 165.6)" stroke-width="1.49"/>
<path d="M565 147.6L596.2 129.4" stroke-width="1.72"/>
<path d="M589.4 145C589.3 140.8 589 126.7 589 120C589 113.3 589.1 108.1 589.4 105C589.7 101.9 590 102 590.6 101.2C591.2 100.5 590.3 99.2 593.1 100.3C595.9 101.4 604.7 106.3 607.5 108.1C610.3 109.9 609.4 109.7 610 111.2C610.6 112.8 610.9 111.2 611 117.5C611.1 123.8 611.2 142.9 610.6 148.8C610 154.6 608.4 151.9 607.5 152.5C606.6 153.1 608 153.8 605 152.5C602 151.2 592 146.2 589.4 145" stroke-width="1.72"/>
<path d="M591.5 104 L606 111.5" stroke-width="1.38"/>
<path d="M610 113C610.2 113.8 611 115.5 611.2 118C611.4 120.5 611 126.3 611 128" stroke-width="2.3"/>
<path d="M592.5 109.5 L594.5 108.5 L602 112 L603 114 L603 124.5 L601 125.6 L595.2 122.5 L594.5 110.5Z" stroke-width="1.61"/>
<path d="M592.5 136 L595 134 L602 137 L603 139 L603 145 L601 147 L594.5 144 L592.5 140Z" stroke-width="1.61"/>
<ellipse cx="596.9" cy="129" rx="1.8" ry="2.8" transform="rotate(20 596.9 129)" stroke-width="1.61"/>
<path d="M591 142.5L601 148" stroke-width="1.38"/>
<ellipse cx="623.2" cy="114.2" rx="7" ry="9.2" transform="rotate(-25 623.2 114.2)" stroke-width="1.84"/>
<path d="M624 105.3C624.8 105.5 627.2 105.6 628.5 106.5C629.8 107.4 630.8 109 631.5 110.5C632.2 112 632.7 113.8 632.5 115.5C632.3 117.2 631.5 119.2 630.5 120.5C629.5 121.8 627.2 122.6 626.5 123" stroke-width="1.72"/>
<ellipse cx="622.3" cy="114.5" rx="2.5" ry="3.3" transform="rotate(-20 622.3 114.5)" stroke-width="1.72" fill="#000"/>
<ellipse cx="643.6" cy="102.6" rx="4.2" ry="5.4" transform="rotate(-20 643.6 102.6)" stroke-width="1.84"/>
<path d="M640.2 98.6 L651.5 90.5" stroke-width="1.72"/>
<path d="M646.5 107.4 L656.5 100.5" stroke-width="1.72"/>
<path d="M651.5 90.5C652.2 90.4 654.3 89.7 655.5 90C656.7 90.3 658 91.4 658.5 92.5C659 93.6 659.1 95.2 658.8 96.5C658.5 97.8 656.9 99.8 656.5 100.5" stroke-width="1.84"/>
<ellipse cx="643.2" cy="102.8" rx="1.5" ry="2.4" transform="rotate(-20 643.2 102.8)" stroke-width="1.49"/>
<path d="M594.2 232.5C594.4 231.2 594.4 228.8 595 225C595.6 221.2 597.4 215 598 210C598.6 205 598.5 199.4 598.8 195C599 190.6 599.1 187.2 599.5 183.8C599.9 180.2 600.5 175.9 601 174C601.5 172.1 601.5 173.4 602.5 172.5C603.5 171.6 606.2 170.4 607 168.8C607.8 167.1 607.8 164.5 607 162.8C606.2 161 604.2 159.3 602.5 158.2C600.8 157.2 598.1 156.6 596.5 156.2C594.9 155.8 594 155.2 592.8 156C591.5 156.8 590.5 159.1 589 161.2C587.5 163.4 585.9 166.2 583.8 168.8C581.6 171.2 578.8 174.1 576.2 176.2C573.8 178.4 571.4 180.1 568.8 181.5C566.1 182.9 563 184.2 560.5 184.5C558 184.8 556.1 183.1 553.8 183C551.4 182.9 548.1 182.8 546.2 183.8C544.4 184.8 542.9 187.1 542.5 189C542.1 190.9 542.8 193.4 544 195C545.2 196.6 547.8 196.2 550 198.8C552.2 201.2 555.3 206.3 557.5 210C559.7 213.7 561.6 217.9 563 221C564.4 224.1 565.6 226.6 565.6 228.8C565.6 230.9 563.6 231.9 563.1 233.8C562.6 235.6 562.2 238 562.5 240C562.8 242 563.5 244.1 565 245.6C566.5 247.1 569.2 247.7 571.2 248.8C573.3 249.8 575.6 251.2 577.5 251.9C579.4 252.6 580.9 253.1 582.5 253C584.1 252.9 586.2 251.5 586.9 251.2" stroke-width="1.72"/>
<ellipse cx="603" cy="166.8" rx="2.9" ry="3.6" transform="rotate(20 603 166.8)" stroke-width="1.61"/>
<ellipse cx="555.5" cy="193.1" rx="3.2" ry="3.6" stroke-width="1.61"/>
<path d="M551 199.5C552.2 201.6 555.9 208.2 558 212C560.1 215.8 562 218.7 563.5 222C565 225.3 566.3 229 567 232C567.7 235 567.4 238.7 567.5 240" stroke-width="1.38"/>
<path d="M560.5 187C562.1 187.2 567.5 187.8 570 188C572.5 188.2 574.6 188.4 575.5 188.5" stroke-width="1.38"/>
<path d="M559 197C559.7 198 561.6 201.6 563 203C564.4 204.4 566.1 205.7 567.5 205.5C568.9 205.3 570.7 203.6 571.5 202C572.3 200.4 572.8 197.8 572.5 196C572.2 194.2 570 191.8 569.5 191" stroke-width="1.49"/>
<path d="M580.5 187.5C581.2 186.2 583.2 182.2 585 180C586.8 177.8 589.4 175.7 591 174.5C592.6 173.3 593.9 173.2 594.5 173" stroke-width="1.38"/>
<path d="M581 188C580.9 189.2 580.3 192.5 580.5 195C580.7 197.5 581.1 200.3 582 203C582.9 205.7 584.7 209.2 586 211C587.3 212.8 589.3 213.5 590 214" stroke-width="1.38"/>
<path d="M588 180L592 177.5" stroke-width="1.38"/>
<path d="M568 210C569 209.6 572.6 207.2 574 207.5C575.4 207.8 576 210.2 576.5 212C577 213.8 576.8 215.8 577 218C577.2 220.2 577.8 223.8 578 225" stroke-width="1.38"/>
<path d="M584 204L590 201.5" stroke-width="1.38"/>
<path d="M587 216C587.2 217 587.7 220.1 588.5 222C589.3 223.9 591.4 226.6 592 227.5" stroke-width="1.38"/>
<path d="M577.5 230C577.3 230.8 576.4 233.7 576.5 235C576.6 236.3 577.8 237.5 578 238" stroke-width="1.38"/>
<path d="M590.5 230L590.5 237" stroke-width="1.38"/>
<path d="M591.5 236C590.8 235.6 588.9 233.9 587.5 233.8C586.1 233.7 584.2 234.4 583.2 235.5C582.2 236.6 581.4 238.9 581.4 240.5C581.4 242.1 582.3 244.1 583.2 245C584.1 245.9 585.8 246.1 587 246.2C588.2 246.3 589.9 245.6 590.5 245.5" stroke-width="1.61"/>
<ellipse cx="597.6" cy="247.6" rx="6.8" ry="11.2" transform="rotate(22 597.6 247.6)" stroke-width="1.72"/>
<ellipse cx="600.5" cy="247.8" rx="6" ry="10.6" transform="rotate(22 600.5 247.8)" stroke-width="1.49"/>
<ellipse cx="612.6" cy="255.7" rx="11.8" ry="16.6" transform="rotate(22 612.6 255.7)" stroke-width="1.84"/>
<path d="M617 249C616.4 249.2 614.8 249.2 613.5 250C612.2 250.8 610.3 252.2 609.5 253.5C608.7 254.8 608.4 256.6 608.5 258C608.6 259.4 609.2 261.2 610 262C610.8 262.8 612.4 262.6 613.5 262.5C614.6 262.4 616 261.7 616.5 261.5" stroke-width="1.61"/>
<path d="M601 237.5L607 240.5" stroke-width="1.38"/>
<path d="M617.5 214C618.8 213.2 620.5 212.7 622 212.5C623.5 212.3 625.2 212.5 626.5 213C627.8 213.5 629.2 214.3 630 215.5C630.8 216.7 631.3 218.2 631.5 220C631.7 221.8 631.6 224.3 631 226C630.4 227.7 629.3 229.1 628 230C626.7 230.9 624.7 231.5 623 231.5C621.3 231.5 619.4 230.9 618 230C616.6 229.1 615.3 227.5 614.5 226C613.7 224.5 613.4 222.5 613.4 221C613.4 219.5 613.8 218.2 614.5 217C615.2 215.8 616.2 214.8 617.5 214Z" stroke-width="1.84"/>
<path d="M616 215C615.8 215.7 614.9 217.5 614.8 219C614.7 220.5 615 222.5 615.5 224C616 225.5 617.2 227.3 617.5 228" stroke-width="1.38"/>
<path d="M615 221L617.8 221.2" stroke-width="1.26"/>
<path d="M616.5 227L619 226" stroke-width="1.26"/>
<ellipse cx="622.5" cy="220.2" rx="1.7" ry="3.3" transform="rotate(33 622.5 220.2)" stroke-width="1.49"/>
<ellipse cx="626.2" cy="222.6" rx="1.7" ry="3.3" transform="rotate(33 626.2 222.6)" stroke-width="1.49"/>
<ellipse cx="629.9" cy="225" rx="1.7" ry="3.3" transform="rotate(33 629.9 225)" stroke-width="1.49"/>
<ellipse cx="633.5" cy="227.4" rx="1.7" ry="3.3" transform="rotate(33 633.5 227.4)" stroke-width="1.49"/>
<ellipse cx="637.2" cy="229.8" rx="1.7" ry="3.3" transform="rotate(33 637.2 229.8)" stroke-width="1.49"/>
<path d="M623 217L638 226.8" stroke-width="1.15"/>
<path d="M620.5 222.5L635.5 232.2" stroke-width="1.15"/>
<path d="M423.4 303.5C423.3 300.4 422.7 289.2 422.6 285C422.5 280.8 422.6 279.8 423 278.5C423.4 277.2 424.4 277.4 425.2 277.5C425.9 277.6 427 276.1 427.5 279C428 281.9 427.9 290.8 428 295C428.1 299.2 428.2 302.2 427.8 304C427.4 305.8 426.2 305.6 425.5 305.5C424.8 305.4 423.8 303.8 423.4 303.5" stroke-width="1.61"/>
<path d="M423.8 283.5L426.8 283.5" stroke-width="1.26"/>
<path d="M716.7 356.1 L709.6 363.7 L702.2 370.6 L694.6 376.6 L686.9 381.8 L679.1 386.1 L671.3 389.4 L663.7 391.8 L656.2 393.1 L649 393.3 L642.1 392.5 L635.6 390.7 L629.7 387.9 L624.2 384.1 L619.4 379.4 L615.2 373.7 L611.8 367.3 L609 360 L607.1 352.1 L605.9 343.6 L605.5 334.6 L605.9 325.1 L607.1 315.3 L609.1 305.4 L611.9 295.3 L615.4 285.2 L619.6 275.2 L624.4 265.4 L629.9 256 L635.9 246.9 L642.3 238.4 L649.2 230.5 L656.4 223.2 L663.9 216.8 L671.6 211.1 L679.4 206.3 L687.2 202.5 L694.9 199.7 L702.5 197.9 L709.9 197.1 L716.9 197.3 L723.6 198.6 L729.8 200.9 L735.5 204.2 L740.7 208.5 L745.2 213.6 L749 219.7 L752.2 226.5 L754.5 234.1 L756.1 242.3 L756.9 251.1 L756.9 260.3 L756.1 270 L754.5 279.8 L752.1 289.9 L749 300 L745.2 310" stroke-width="1.72"/>
<path d="M676.9 211.2 L683.4 207.5 L689.9 204.5 L696.4 202.3 L702.7 200.8 L708.9 200.1 L714.8 200.1 L720.5 200.9" stroke-width="1.49"/>
<path d="M610.1 328.1 L609.9 336.3 L610.4 344.2 L611.4 351.6 L613.1 358.5 L615.4 364.9 L618.3 370.7 L621.7 375.8" stroke-width="1.49"/>
<path d="M712.2 334.1 L707.5 339.6 L702.5 344.8 L697.4 349.4 L692.1 353.4 L686.7 356.8 L681.3 359.6 L675.9 361.8 L670.6 363.2 L665.4 363.9 L660.5 363.9 L655.8 363.2 L651.4 361.8 L647.3 359.7 L643.6 356.9 L640.4 353.4 L637.6 349.4 L635.3 344.8 L633.6 339.7 L632.3 334.1 L631.6 328.1 L631.5 321.8 L632 315.2 L632.9 308.5 L634.5 301.6 L636.5 294.6 L639.1 287.7 L642.2 280.8 L645.6 274.1 L649.5 267.7 L653.8 261.6 L658.4 255.8 L663.2 250.5 L668.3 245.7 L673.6 241.4 L678.9 237.7 L684.3 234.6 L689.7 232.2 L695.1 230.5 L700.3 229.5 L705.3 229.2 L710.2 229.6 L714.7 230.7 L718.9 232.6 L722.8 235.1 L726.2 238.3 L729.2 242 L731.6 246.4 L733.6 251.3 L735.1 256.7 L736 262.5 L736.4 268.7 L736.2 275.2 L735.4 281.9 L734.1 288.8 L732.2 295.7 L729.9 302.6" stroke-width="1.72"/>
<ellipse cx="680.8" cy="295.5" rx="33.1" ry="19.8" transform="rotate(-60.5 680.8 295.5)" stroke-width="1.72"/>
<ellipse cx="691" cy="244" rx="5.6" ry="9.8" transform="rotate(25 691 244)" stroke-width="1.72"/>
<path d="M697.5 236C697.9 236.7 699.5 238.3 699.8 240C700 241.7 699.7 244 699 246C698.3 248 696.1 251 695.5 252" stroke-width="1.49"/>
<ellipse cx="715" cy="247" rx="5.6" ry="9.8" transform="rotate(25 715 247)" stroke-width="1.72"/>
<path d="M721.5 239C721.9 239.7 723.5 241.3 723.8 243C724 244.7 723.7 247 723 249C722.3 251 720.1 254 719.5 255" stroke-width="1.49"/>
<ellipse cx="726" cy="262" rx="5.6" ry="9.8" transform="rotate(25 726 262)" stroke-width="1.72"/>
<path d="M732.5 254C732.9 254.7 734.5 256.3 734.8 258C735 259.7 734.7 262 734 264C733.3 266 731.1 269 730.5 270" stroke-width="1.49"/>
<ellipse cx="725" cy="285.5" rx="5.6" ry="9.8" transform="rotate(25 725 285.5)" stroke-width="1.72"/>
<path d="M731.5 277.5C731.9 278.2 733.5 279.8 733.8 281.5C734 283.2 733.7 285.5 733 287.5C732.3 289.5 730.1 292.5 729.5 293.5" stroke-width="1.49"/>
<ellipse cx="671" cy="257.5" rx="5.6" ry="9.8" transform="rotate(25 671 257.5)" stroke-width="1.72"/>
<path d="M677.5 249.5C677.9 250.2 679.5 251.8 679.8 253.5C680 255.2 679.7 257.5 679 259.5C678.3 261.5 676.1 264.5 675.5 265.5" stroke-width="1.49"/>
<ellipse cx="655" cy="280.5" rx="5.6" ry="9.8" transform="rotate(25 655 280.5)" stroke-width="1.72"/>
<path d="M661.5 272.5C661.9 273.2 663.5 274.8 663.8 276.5C664 278.2 663.7 280.5 663 282.5C662.3 284.5 660.1 287.5 659.5 288.5" stroke-width="1.49"/>
<ellipse cx="643.5" cy="307" rx="5.6" ry="9.8" transform="rotate(25 643.5 307)" stroke-width="1.72"/>
<path d="M650 299C650.4 299.7 652 301.3 652.3 303C652.5 304.7 652.2 307 651.5 309C650.8 311 648.6 314 648 315" stroke-width="1.49"/>
<ellipse cx="643.5" cy="330.5" rx="5.6" ry="9.8" transform="rotate(25 643.5 330.5)" stroke-width="1.72"/>
<path d="M650 322.5C650.4 323.2 652 324.8 652.3 326.5C652.5 328.2 652.2 330.5 651.5 332.5C650.8 334.5 648.6 337.5 648 338.5" stroke-width="1.49"/>
<ellipse cx="653" cy="349.5" rx="5.6" ry="9.8" transform="rotate(25 653 349.5)" stroke-width="1.72"/>
<path d="M659.5 341.5C659.9 342.2 661.5 343.8 661.8 345.5C662 347.2 661.7 349.5 661 351.5C660.3 353.5 658.1 356.5 657.5 357.5" stroke-width="1.49"/>
<ellipse cx="671" cy="349.5" rx="5.6" ry="9.8" transform="rotate(25 671 349.5)" stroke-width="1.72"/>
<path d="M677.5 341.5C677.9 342.2 679.5 343.8 679.8 345.5C680 347.2 679.7 349.5 679 351.5C678.3 353.5 676.1 356.5 675.5 357.5" stroke-width="1.49"/>
<ellipse cx="694" cy="337" rx="5.6" ry="9.8" transform="rotate(25 694 337)" stroke-width="1.72"/>
<path d="M700.5 329C700.9 329.7 702.5 331.3 702.8 333C703 334.7 702.7 337 702 339C701.3 341 699.1 344 698.5 345" stroke-width="1.49"/>
<path d="M658.1 234.1 L661.4 231 L664.8 228.1 L668.2 225.4 L671.7 222.9 L675.2 220.5 L678.7 218.4 L682.2 216.5 L685.7 214.9 L689.2 213.4" stroke-width="1.72" stroke-dasharray="2.6 2.4"/>
<path d="M647.2 253.5 L650.2 249.7 L653.3 246.1 L656.4 242.6 L659.7 239.3 L663 236.2 L666.4 233.3" stroke-width="1.72" stroke-dasharray="2.6 2.4"/>
<path d="M634.8 263.9 L632.4 268.2 L630.1 272.5 L628 276.9 L626 281.4 L624.2 285.8 L622.5 290.4 L621 294.9 L619.7 299.4 L618.5 303.9 L617.5 308.4 L616.7 312.9 L616.1 317.3" stroke-width="1.72" stroke-dasharray="2.6 2.4"/>
<path d="M631 281.2 L629.3 285.3 L627.7 289.5 L626.3 293.6 L625 297.8 L623.9 302 L622.9 306.1 L622.1 310.3 L621.5 314.3 L621 318.4" stroke-width="1.72" stroke-dasharray="2.6 2.4"/>
<path d="M683.9 371.9 L687.7 369.6 L691.5 367 L695.2 364.3 L698.9 361.3 L702.6 358 L706.1 354.6 L709.6 350.9 L713 347.1" stroke-width="1.72" stroke-dasharray="2.6 2.4"/>
<path d="M693.5 359.2 L696.4 356.9 L699.3 354.4 L702.1 351.8 L704.9 349 L707.6 346.2 L710.3 343.1" stroke-width="1.72" stroke-dasharray="2.6 2.4"/>
<path d="M683 264C682.7 263.8 681.5 262.7 681 263C680.5 263.3 680.2 265.5 680 266" stroke-width="1.38"/>
<path d="M714 280C713.7 279.7 712.5 277.5 712 278C711.5 278.5 711.2 282.2 711 283" stroke-width="1.38"/>
<path d="M652 322C651.7 322.3 649.8 323.2 650 324C650.2 324.8 652.5 326.5 653 327" stroke-width="1.38"/>
<path d="M685 335C684.7 334.7 683.3 332.7 683 333C682.7 333.3 683 336.3 683 337" stroke-width="1.38"/>
<path d="M727.5 337.5C726.7 337.2 724 336.6 722.5 336C721 335.4 720 335 718.8 333.8C717.5 332.5 715.8 331 715 328.8C714.2 326.5 713.3 322.7 713.8 320C714.2 317.3 715.6 314.6 717.5 312.5C719.4 310.4 722.8 308.6 725 307.5C727.2 306.4 728.9 305.8 731 306C733.1 306.2 736.4 308.3 737.5 308.8" stroke-width="1.84"/>
<ellipse cx="733.5" cy="325" rx="9.3" ry="13.2" transform="rotate(22 733.5 325)" stroke-width="1.84"/>
<ellipse cx="734.3" cy="325" rx="5.6" ry="8.6" transform="rotate(22 734.3 325)" stroke-width="1.61"/>
<ellipse cx="734" cy="325.6" rx="4.4" ry="7.2" transform="rotate(22 734 325.6)" stroke-width="1.38"/>
<path d="M712 314C711.3 314.3 708.8 314.7 708 316C707.2 317.3 706.9 320.2 707 322C707.1 323.8 708.2 326.2 708.5 327" stroke-width="1.49"/>
<path d="M720.6 336.5L720.6 361" stroke-width="1.72"/>
<path d="M594.4 720L594.4 744.4" stroke-width="1.72"/>
<path d="M556.9 802.5L556.9 828.8" stroke-width="1.72"/>
<path d="M517 824L517 855" stroke-width="1.72"/>
<path d="M624 895L624 926" stroke-width="1.72"/>
<path d="M753.5 774.5L753.5 805.5" stroke-width="1.72"/>
<path d="M851 863L851 886" stroke-width="1.72"/>
<path d="M772 854.6L838.8 890.4" stroke-width="1.72"/>
<path d="M819.5 962L819.5 988" stroke-width="1.72"/>
<path d="M853.2 977.7L853.2 1010.7" stroke-width="1.72"/>
<path d="M890.5 927L890.5 960" stroke-width="1.72"/>
<path d="M935.5 940.8L935.5 973" stroke-width="1.72"/>
<path d="M1010.5 893L1010.5 920.5" stroke-width="1.72"/>
<path d="M1051 893L1051 925" stroke-width="1.72"/>
<path d="M1088.5 876L1088.5 907" stroke-width="1.72"/>
<path d="M958 1042.8L958 1075" stroke-width="1.72"/>
<path d="M1072.2 1086.5L1072.2 1126.8" stroke-width="1.72"/>
<path d="M1024.4 757L1024.4 779" stroke-width="1.72"/>
<path d="M499.8 735C499.5 732.5 500.5 730 502 727.5C503.5 725 506 722.1 508.8 720C511.5 717.9 515.8 715.7 518.5 714.8C521.2 713.8 523.8 715 525.2 714.4C526.8 713.8 526.1 711.9 527.5 711C528.9 710.1 531 708.9 533.5 708.8C536 708.6 540 709.2 542.5 710.2C545 711.2 547.1 713.1 548.5 714.8C549.9 716.4 550.6 717.9 550.8 720C550.9 722.1 550.2 724.8 549.2 727.5C548.2 730.2 546.5 733.8 544.8 736.5C543 739.2 541 742 538.8 744C536.5 746 534.4 747.4 531.2 748.5C528.1 749.6 523.4 750.6 520 750.8C516.6 750.9 513.8 750.6 511 749.2C508.2 747.9 505.4 744.9 503.5 742.5C501.6 740.1 500 737.5 499.8 735Z" stroke-width="1.72"/>
<path d="M512.5 731.2L522.2 723" stroke-width="1.72"/>
<path d="M529 720 L529 742.5 L533.5 742.5"/>
<path d="M534.2 721.5L534.2 738" stroke-width="1.72"/>
<path d="M509.5 742.5L514 748.5" stroke-width="1.72"/>
<path d="M530 713L533 714.5" stroke-width="1.72"/>
<path d="M538.5 715L546 714.5" stroke-width="1.72"/>
<path d="M553 718C554.1 718.6 557.9 719.9 559.8 721.5C561.6 723.1 563.2 725 564.2 727.5C565.2 730 566.2 734.1 565.8 736.5C565.2 738.9 562.9 740.5 561.2 741.8C559.6 743 556.9 743.6 556 744" stroke-width="1.72"/>
<path d="M556 744C557.8 744.1 564.5 744.2 566.5 744.8C568.5 745.2 568 744.9 568 747C568 749.1 567.2 754.6 566.5 757.5C565.8 760.4 564.6 763 563.5 764.2C562.4 765.5 562.4 765.5 559.8 765C557.1 764.5 550.6 763.1 547.8 761.2C544.9 759.4 544.5 755.6 542.5 753.8C540.5 751.9 536.9 750.6 535.8 750" stroke-width="1.72"/>
<path d="M555 737L562.5 722.5" stroke-width="1.72"/>
<path d="M553.5 748C553.7 748.7 553.8 752.1 554.5 752C555.2 751.9 556.3 749 558 747.5C559.7 746 563.4 743.8 564.5 743"/>
<path d="M549 741L551 758" stroke-width="1.72"/>
<path d="M535.5 750L540.5 752.5" stroke-width="1.72"/>
<path d="M540 745L541.5 753" stroke-width="1.72"/>
<path d="M478 768.8C478.5 766.9 479.6 760.9 481 757.5C482.4 754.1 484.8 750.3 486.2 748.5C487.8 746.7 488.5 746.5 490 746.6C491.5 746.7 492.8 747.9 495.2 749.2C497.8 750.6 502.6 752.9 505 754.5C507.4 756.1 508.6 756.6 509.5 759C510.4 761.4 510.2 766.1 510.2 768.8C510.2 771.4 510.4 773.8 509.5 775C508.6 776.2 505.8 775.7 505 775.8" stroke-width="1.72"/>
<path d="M478 768.8C478 769.1 477.4 769.6 478.1 770.6C478.8 771.6 480.2 773.7 482.2 774.6C484.2 775.5 486.5 776 490.3 776.2C494.1 776.4 502.6 775.9 505 775.8" stroke-width="1.72"/>
<path d="M486.5 772L495 752.5" stroke-width="1.72"/>
<path d="M504.1 777.9C501.8 777.9 494.1 777.9 490 778C485.9 778.1 482.2 778.3 479.7 778.7C477.2 779.1 475.8 778.9 474.9 780.3C474 781.6 474.1 783.9 474.1 786.8C474.1 789.6 474.2 794.8 474.9 797.4C475.6 800 476.5 801.1 478.1 802.2C479.7 803.3 481.9 804.6 484.6 803.9C487.3 803.2 490.6 800.4 494.4 798.2C498.2 796 505.2 793.3 507.4 790.9C509.6 788.5 508.1 786.2 507.5 784C506.9 781.8 504.7 778.9 504.1 777.9" stroke-width="1.72"/>
<path d="M488 781.5L502 780.5" stroke-width="1.72"/>
<path d="M484 784L497 783" stroke-width="1.72"/>
<path d="M483.5 786L483.5 800" stroke-width="1.72"/>
<path d="M481.4 806.3C482.2 805.1 484.2 805.7 486.2 804.7C488.2 803.8 490.4 802.6 493.6 800.6C496.9 798.6 502.6 793.9 505.7 792.5C508.8 791.1 509.8 791.7 512.2 792.5C514.7 793.3 518.5 795.2 520.4 797.4C522.3 799.6 523.2 802.5 523.6 805.5C524 808.5 523.6 812.5 522.8 815.2C522 817.9 520.3 820.2 518.7 821.7C517.1 823.2 515.4 823.7 513 824.2C510.6 824.8 507.2 825.3 504.1 825C501 824.7 497.4 823.9 494.4 822.5C491.4 821.1 488.4 818.6 486.2 816.9C484 815.1 482.2 813.8 481.4 812C480.6 810.2 480.6 807.5 481.4 806.3Z" stroke-width="1.72"/>
<path d="M502.5 822C503.9 819.3 509.1 808.9 511 806C512.9 803.1 513.2 804.4 514 804.5C514.8 804.6 516.6 803.6 515.5 806.5C514.4 809.4 508.8 819.4 507.5 822" stroke-width="1.61"/>
<path d="M492.5 807.5L503 801" stroke-width="1.49"/>
<path d="M488 810L488 816" stroke-width="1.38"/>
<path d="M562.6 779.9C564.1 780.2 568.4 780.5 571.5 782C574.6 783.5 579.3 787 581.3 789.2C583.3 791.4 583.4 792.8 583.7 795C584 797.2 583.7 800 582.9 802.2C582.1 804.4 580.4 806.8 578.9 808C577.4 809.2 575.6 809.6 574 809.6C572.4 809.6 571.8 808.7 569.1 808C566.4 807.3 560.3 807.1 557.7 805.5C555.1 803.9 554.8 799.6 553.7 798.2C552.6 796.9 553.8 798.6 551.2 797.4C548.6 796.2 540.6 792.7 538.2 790.9C535.8 789.1 536.6 788.7 536.6 786.8C536.6 784.9 537.5 781.5 538.2 779.5C538.9 777.5 539.2 775.9 540.7 774.6C542.2 773.3 544.9 772.1 547.2 771.8C549.5 771.5 552.3 772.3 554.5 773C556.7 773.7 558.9 775.1 560.2 776.2C561.6 777.4 562.2 779.3 562.6 779.9C563 780.5 561.1 779.5 562.6 779.9Z" stroke-width="1.72"/>
<ellipse cx="577.4" cy="800.2" rx="5.4" ry="8.6" transform="rotate(25 577.4 800.2)" stroke-width="1.72"/>
<path d="M556 784L556.8 800.6" stroke-width="1.49"/>
<path d="M559.2 782.5L560.5 802" stroke-width="1.49"/>
<path d="M561.5 784L562.5 804" stroke-width="1.38"/>
<path d="M557 773.2C557.4 773.3 558.8 773.5 559.5 774C560.2 774.5 561.2 776.1 561.5 776.5" stroke-width="1.49"/>
<path d="M526.9 776.2C526.6 777.3 526 779.7 525.2 782.7C524.4 785.7 522.3 790 522 794.1C521.7 798.2 522.8 803.9 523.6 807.1C524.4 810.4 525.5 812.2 526.9 813.6C528.2 815 530.1 815.5 531.7 815.2C533.3 814.9 534.8 813.6 536.6 812C538.4 810.4 541.2 807.4 542.3 805.5C543.4 803.6 543.6 802.3 543.1 800.6C542.6 798.9 540.8 796.9 539.5 795.5C538.2 794.1 536.2 792.6 535.5 792" stroke-width="1.72"/>
<path d="M526.9 776.2L535.8 772.2" stroke-width="1.61"/>
<path d="M528.5 790C528.9 789 530.1 785.3 531 784C531.9 782.7 533.5 782.3 534 782" stroke-width="1.49"/>
<path d="M527.5 803L528 811" stroke-width="1.38"/>
<ellipse cx="523.8" cy="775.5" rx="2.6" ry="2.2" transform="rotate(-30 523.8 775.5)" stroke-width="1.49" fill="#000"/>
<path d="M583 748C583.6 746.8 584.5 745.5 586 744.8C587.5 744.1 590.4 743.8 592 744C593.6 744.2 594.8 744.9 595.5 746.2C596.2 747.5 596.5 750.1 596.3 752C596 753.9 595.3 756.3 594 757.5C592.7 758.7 590.2 759.2 588.5 759C586.8 758.8 584.5 757.7 583.5 756.5C582.5 755.3 582.4 753.4 582.3 752C582.2 750.6 582.4 749.2 583 748Z" stroke-width="1.72"/>
<path d="M590.2 745L591 758.5" stroke-width="1.49"/>
<path d="M583.5 750L590 749" stroke-width="1.26"/>
<path d="M594.5 749.5 L613 759" stroke-width="1.61"/>
<path d="M594 755.5 L611 764.5" stroke-width="1.61"/>
<ellipse cx="603" cy="757.5" rx="1.5" ry="3.3" transform="rotate(27 603 757.5)" stroke-width="1.38"/>
<ellipse cx="605" cy="758.5" rx="1.5" ry="3.3" transform="rotate(27 605 758.5)" stroke-width="1.38"/>
<ellipse cx="607" cy="759.5" rx="1.5" ry="3.3" transform="rotate(27 607 759.5)" stroke-width="1.38"/>
<ellipse cx="609" cy="760.5" rx="1.5" ry="3.3" transform="rotate(27 609 760.5)" stroke-width="1.38"/>
<ellipse cx="611" cy="761.5" rx="1.5" ry="3.3" transform="rotate(27 611 761.5)" stroke-width="1.38"/>
<ellipse cx="613" cy="762.5" rx="1.5" ry="3.3" transform="rotate(27 613 762.5)" stroke-width="1.38"/>
<path d="M640 888C638.3 888.8 633.3 891.8 630 893C626.7 894.2 623.7 895.2 620 895C616.3 894.8 611.7 893.8 608 892C604.3 890.2 600.8 887.7 598 884C595.2 880.3 592.8 874.8 591 870C589.2 865.2 588 860.8 587.5 855C587 849.2 587.1 842 588 835C588.9 828 590.5 819.7 593 813C595.5 806.3 599 800.5 603 795C607 789.5 611.7 784.2 617 780C622.3 775.8 628.3 772.3 635 770C641.7 767.7 651.2 766.2 657 766C662.8 765.8 666.2 767 670 769C673.8 771 677.3 774.5 680 778C682.7 781.5 684.3 786.3 686 790C687.7 793.7 689.3 798.3 690 800" stroke-width="1.72"/>
<path d="M602 881C600.8 879.2 596.8 874.3 595 870C593.2 865.7 591.5 860.7 591 855C590.5 849.3 591 842.7 592 836C593 829.3 594.5 821.3 597 815C599.5 808.7 603.5 802.7 607 798C610.5 793.3 613.2 790.6 618 787C622.8 783.4 629.8 779 636 776.5C642.2 774 651.8 772.8 655 772" stroke-width="1.61"/>
<path d="M615.5 785 L617 772 L622 769.5 L629.5 773.5" stroke-width="1.72"/>
<path d="M620 775L625 777" stroke-width="1.38"/>
<path d="M590 826C589.2 825.8 586.2 824 585 824.5C583.8 825 582.7 827.4 582.5 829C582.3 830.6 582.8 832.8 584 834C585.2 835.2 589 836.1 590 836.5" stroke-width="1.72"/>
<path d="M585 827L589 829" stroke-width="1.38"/>
<path d="M620 803C621.2 802 624.7 798.5 627 797C629.3 795.5 631 795.2 634 794C637 792.8 642.2 791.5 645 790C647.8 788.5 649.2 786.7 651 785C652.8 783.3 654 781.3 656 780C658 778.7 660.8 778 663 777C665.2 776 668 774.5 669 774" stroke-width="1.61"/>
<path d="M608 822C608.2 820.3 608.2 814.8 609 812C609.8 809.2 611.2 806.8 613 805C614.8 803.2 617.7 801.3 620 801.5C622.3 801.7 624.5 804.2 627 806C629.5 807.8 632 810 635 812C638 814 642.5 817.3 645 818C647.5 818.7 649.2 816.3 650 816" stroke-width="1.61"/>
<path d="M622 815C621.7 815.5 620.3 816.3 620 818C619.7 819.7 620 823.8 620 825" stroke-width="1.49"/>
<path d="M605 820C605.2 821.7 605.7 825.8 606 830C606.3 834.2 606.7 840.3 607 845C607.3 849.7 608.2 854.7 608 858C607.8 861.3 606.3 863.8 606 865" stroke-width="1.49"/>
<path d="M610 868C608.8 869.7 604 875.2 603 878C602 880.8 602.5 883.5 604 885C605.5 886.5 609 887 612 887C615 887 619.3 885.8 622 885C624.7 884.2 627 882.5 628 882" stroke-width="1.61"/>
<path d="M615 872C615.5 870.3 617 864 618 862C619 860 620.5 860.3 621 860" stroke-width="1.49"/>
<path d="M611 869L614 877" stroke-width="1.72"/>
<path d="M612 835L617 838" stroke-width="1.72"/>
<path d="M621 840L627 843" stroke-width="1.72"/>
<path d="M632 878C631.7 879 629.7 882.7 630 884C630.3 885.3 632.5 886 634 886C635.5 886 638.2 884.3 639 884" stroke-width="1.49"/>
<path d="M686 790C686.3 790.8 687.3 792.3 688 795C688.7 797.7 689.8 802.2 690 806C690.2 809.8 689.2 816 689 818" stroke-width="1.61"/>
<path d="M672 779C673.3 779.2 677.8 778.8 680 780C682.2 781.2 684.2 785 685 786" stroke-width="1.49"/>
<path d="M661 796C661.7 795 663.3 791.7 665 790C666.7 788.3 668.5 786.8 671 786C673.5 785.2 678.5 785.2 680 785" stroke-width="1.49"/>
<path d="M683 793C682.3 793.7 679.5 795.8 679 797C678.5 798.2 679.8 799.5 680 800" stroke-width="1.49"/>
<path d="M688 818L692 822" stroke-width="1.72"/>
<path d="M636 823C635.3 825.8 632.3 833.8 632 840C631.7 846.2 632.7 854.2 634 860C635.3 865.8 637.7 871 640 875C642.3 879 645 881.7 648 884C651 886.3 654.8 888.5 658 889C661.2 889.5 664.3 888.2 667 887C669.7 885.8 672.8 882.8 674 882" stroke-width="1.72"/>
<path d="M640 820C639.5 822.5 637.3 829.2 637 835C636.7 840.8 637 849.2 638 855C639 860.8 641 865.8 643 870C645 874.2 647.5 877.5 650 880C652.5 882.5 656.7 884.2 658 885" stroke-width="1.49"/>
<path d="M646 817C648.3 816.2 655.7 812.8 660 812C664.3 811.2 668.2 811.2 672 812C675.8 812.8 680 815 683 817C686 819 688.8 822.8 690 824" stroke-width="1.61"/>
<path d="M649 822C650.8 821.3 656.3 818.5 660 818C663.7 817.5 667.8 818.2 671 819C674.2 819.8 677.7 822.3 679 823" stroke-width="1.49"/>
<path d="M644 828C643.5 830.8 641.3 839.3 641 845C640.7 850.7 640.8 856.8 642 862C643.2 867.2 647 873.7 648 876" stroke-width="1.61"/>
<ellipse cx="672" cy="851" rx="17" ry="23" transform="rotate(-25 672 851)" stroke-width="1.72"/>
<ellipse cx="673" cy="852" rx="13.5" ry="19.5" transform="rotate(-25 673 852)" stroke-width="1.61"/>
<path d="M662 841C661.5 842.8 659.3 848.2 659 852C658.7 855.8 659.2 860.8 660 864C660.8 867.2 663.3 869.8 664 871" stroke-width="1.49"/>
<path d="M667 836C666.3 838 663.5 843.7 663 848C662.5 852.3 663.8 859.7 664 862" stroke-width="1.49"/>
<path d="M691 850C691.7 851.3 694.7 855 695 858C695.3 861 694.2 865.3 693 868C691.8 870.7 688.8 873 688 874" stroke-width="1.49"/>
<path d="M650 880C650.8 881.2 652 885.3 655 887C658 888.7 664.2 889.8 668 890C671.8 890.2 675 889.3 678 888C681 886.7 684.7 883 686 882" stroke-width="1.61"/>
<path d="M686 882C687 881.7 690 881.8 692 880C694 878.2 696.7 874 698 871C699.3 868 700 865.8 700 862C700 858.2 699.3 852 698 848C696.7 844 693 839.7 692 838" stroke-width="1.61"/>
<ellipse cx="693" cy="884.5" rx="3.2" ry="4" stroke-width="1.49"/>
<path d="M698 850C697.8 849.2 696.7 846.3 697 845C697.3 843.7 699.2 841.8 700 842C700.8 842.2 701.7 845.3 702 846" stroke-width="1.49"/>
<path d="M735.7 982 L728.4 983.9 L721.4 984.8 L714.6 984.7 L708.2 983.7 L702.2 981.7 L696.7 978.8 L691.7 975 L687.3 970.3 L683.5 964.8 L680.4 958.5 L678 951.6 L676.3 944 L675.4 935.9 L675.3 927.3 L675.9 918.4 L677.2 909.2 L679.3 899.9 L682.1 890.4 L685.7 881 L689.8 871.8 L694.6 862.8 L699.9 854.1 L705.7 845.8 L712 838" stroke-width="1.72"/>
<path d="M712 838 L714.4 835.2 L718.8 836.3 L721.1 833.8 L722 827.5 L724.7 825.1 L728.4 826.8 L730.9 824.7 L732.7 818.5 L735.4 816.6 L738.6 818.9 L741.2 817.2 L743.6 811.4 L746.4 809.9 L749.1 812.7 L751.7 811.5 L754.7 806.2 L757.4 805.2 L759.5 808.5 L762.1 807.8 L765.6 803 L768.2 802.6 L769.8 806.3 L772.3 806.1 L776 802.1" stroke-width="1.61"/>
<path d="M777 802.1 L783.2 802.7 L789 804.2 L794.5 806.6 L799.5 809.8 L804 813.8 L807.9 818.5 L811.3 824 L814 830.1 L816.2 836.8 L817.6 844 L818.4 851.8" stroke-width="1.72"/>
<path d="M768.1 962.7 L765.7 964.8 L762.3 962.7 L760 964.5 L758.2 970.4 L755.7 972.1 L752.9 969.6 L750.5 971.1 L748.1 976.6 L745.6 977.9 L743.2 974.9 L740.8 976 L738 981.2" stroke-width="1.61"/>
<path d="M790.9 937.3 L785.6 944.3 L780 950.9 L774.2 957.1 L768.1 962.7" stroke-width="1.72"/>
<path d="M686.5 949.5 L684.2 943.1 L682.6 936.1 L681.6 928.7 L681.4 920.9 L681.8 912.9 L682.9 904.7 L684.7 896.3 L687.2 888 L690.3 879.7 L694 871.6 L698.2 863.7 L703 856.2 L708.2 849.1 L713.9 842.4 L719.9 836.3 L726.2 830.8 L732.7 826 L739.4 821.9 L746.1 818.5 L752.9 816 L759.6 814.3 L766.2 813.4 L772.6 813.4 L778.7 814.3 L784.5 816 L789.9 818.5 L794.8 821.8 L799.3 825.9 L803.2 830.7 L806.5 836.2 L809.3 842.3 L811.3 849 L812.7 856.1 L813.4 863.6 L813.4 871.5" stroke-width="1.72"/>
<path d="M696.1 959.8 L692.7 955.1 L689.9 949.9 L687.6 944 L685.9 937.7 L684.8 931 L684.4 923.9 L684.5 916.5 L685.3 909 L686.6 901.2 L688.6 893.5 L691.2 885.7 L694.3 878 L697.9 870.5 L702.1 863.2 L706.6 856.2 L711.6 849.6 L716.9 843.5 L722.6 837.9" stroke-width="1.49"/>
<path d="M809.7 880.5 L808.4 887.8 L806.6 895.2 L804.2 902.5 L801.4 909.8 L798.1 916.9 L794.4 923.8 L790.2 930.5" stroke-width="1.49"/>
<path d="M680 902L679.6 906.7" stroke-width="1.61"/>
<path d="M679.2 910.6L678.8 915.3" stroke-width="1.61"/>
<path d="M678.4 919.2L678 923.9" stroke-width="1.61"/>
<path d="M677.6 927.8L677.2 932.5" stroke-width="1.61"/>
<path d="M676.8 936.4L676.4 941.1" stroke-width="1.61"/>
<path d="M673 905L672.9 908" stroke-width="1.61"/>
<path d="M672.8 910.4L672.7 913.4" stroke-width="1.61"/>
<path d="M672.6 915.8L672.5 918.8" stroke-width="1.61"/>
<path d="M672.4 921.2L672.3 924.2" stroke-width="1.61"/>
<path d="M672.2 926.6L672.1 929.6" stroke-width="1.61"/>
<path d="M817 858L816.9 862.4" stroke-width="1.61"/>
<path d="M816.8 866L816.6 870.4" stroke-width="1.61"/>
<path d="M816.5 874L816.4 878.4" stroke-width="1.61"/>
<path d="M816.2 882L816.1 886.4" stroke-width="1.61"/>
<ellipse cx="750" cy="896" rx="34.5" ry="21.5" transform="rotate(-60 750 896)" stroke-width="1.72"/>
<path d="M770 866C770.8 868 774.2 873.2 775 878C775.8 882.8 775.8 889.3 775 895C774.2 900.7 772.2 907.5 770 912C767.8 916.5 763.3 920.3 762 922" stroke-width="1.49"/>
<path d="M731.5 846C732.7 843.3 734.9 839.2 738 836C741.1 832.8 745.7 829.7 750 827C754.3 824.3 760.5 821.2 764 820C767.5 818.8 769.3 819 771 819.5C772.7 820 773.9 820.8 774 823C774.1 825.2 773 829.7 771.5 833C770 836.3 768.2 840.7 765 843C761.8 845.3 756 845.7 752 847C748 848.3 743.8 849.7 741 851C738.2 852.3 736.7 854.8 735 855C733.3 855.2 731.6 853.5 731 852C730.4 850.5 730.3 848.7 731.5 846Z" stroke-width="1.72"/>
<path d="M770 822L766 840" stroke-width="1.38"/>
<path d="M798.9 838C797.1 838.5 793.5 840.7 791 843C788.5 845.3 785.1 847.8 784 852C782.9 856.2 783.8 863.2 784.5 868C785.2 872.8 785.9 878.6 788 880.8C790.1 882.9 795 881.2 797 881C799 880.8 799.3 882.1 800 879.4C800.7 876.7 800.7 869.9 801 865C801.3 860.1 801.9 854.2 802 850C802.1 845.8 802 842 801.5 840C801 838 800.6 837.5 798.9 838Z" stroke-width="1.72"/>
<path d="M706.8 872.5C708.4 872 710.4 872.9 712 874C713.6 875.1 715.9 875.9 716.4 879.4C716.9 882.9 715.7 889.7 715 895C714.3 900.3 713.9 907 712.2 911C710.6 915 707.8 916.7 705 919C702.2 921.3 698.3 923.3 695.8 924.8C693.2 926.2 690.5 928.9 689.5 927.5C688.5 926.1 689.4 921.1 690 916.5C690.6 911.9 691.6 904.6 693 900C694.4 895.4 697 892.8 698.5 889C700 885.2 700.6 879.8 702 877C703.4 874.2 705.1 873 706.8 872.5Z" stroke-width="1.72"/>
<path d="M692 925L711 912" stroke-width="1.38"/>
<path d="M783.8 907.5C785.7 908 789.3 910.6 790 912.4C790.7 914.1 789.5 915.2 788 918C786.5 920.8 783.3 925.6 781 929C778.7 932.4 776.8 935.3 774 938.5C771.2 941.7 766.7 947.1 764.5 948C762.3 948.9 761.5 946.3 761 944C760.5 941.7 760.2 938.1 761.8 934.4C763.2 930.7 767.2 926.1 770 922C772.8 917.9 776 912 778.2 909.6C780.5 907.2 781.8 907 783.8 907.5Z" stroke-width="1.72"/>
<path d="M787 915L766 946" stroke-width="1.38"/>
<path d="M700 951C702.5 948.6 708.1 942 712.2 940.5C716.4 939 721.3 941 725 942C728.7 943 731.9 944.6 734.2 946.8C736.6 948.9 738.5 952.3 739 955C739.5 957.7 740.3 960.7 737 963C733.7 965.3 724.5 968.7 719 968.8C713.5 968.8 707.7 965.5 704 963.2C700.3 961 697.7 957 697 955C696.3 953 697.5 953.4 700 951Z" stroke-width="1.72"/>
<path d="M704 966L722 970" stroke-width="1.38"/>
<path d="M733 870.5C732.7 870.5 731.5 870.2 731 870.5C730.5 870.8 730 871.8 730 872.5C730 873.2 730.5 874.2 731 874.5C731.5 874.8 732.7 874.5 733 874.5" stroke-width="1.49"/>
<path d="M783 893.5C782.7 893.5 781.5 893.2 781 893.5C780.5 893.8 780 894.8 780 895.5C780 896.2 780.5 897.2 781 897.5C781.5 897.8 782.7 897.5 783 897.5" stroke-width="1.49"/>
<path d="M720 928C719.7 928 718.5 927.7 718 928C717.5 928.3 717 929.3 717 930C717 930.7 717.5 931.7 718 932C718.5 932.3 719.7 932 720 932" stroke-width="1.49"/>
<path d="M748 936C747.7 936 746.5 935.7 746 936C745.5 936.3 745 937.3 745 938C745 938.7 745.5 939.7 746 940C746.5 940.3 747.7 940 748 940" stroke-width="1.49"/>
<path d="M774 851C773.7 851 772.5 850.7 772 851C771.5 851.3 771 852.3 771 853C771 853.7 771.5 854.7 772 855C772.5 855.3 773.7 855 774 855" stroke-width="1.49"/>
<path d="M842 890C843.1 888.6 844.5 888.1 846 887.5C847.5 886.9 849.5 886.2 851 886.5C852.5 886.8 854 887.8 855 889C856 890.2 856.8 892.2 857 894C857.2 895.8 856.8 898.2 856 900C855.2 901.8 853.7 903.6 852 904.5C850.3 905.4 847.8 905.9 846 905.5C844.2 905.1 842.1 903.6 841 902C839.9 900.4 839.3 898 839.5 896C839.7 894 840.9 891.4 842 890Z" stroke-width="1.72"/>
<ellipse cx="851.5" cy="897" rx="4.2" ry="6.2" transform="rotate(25 851.5 897)" stroke-width="1.49"/>
<ellipse cx="851.5" cy="897" rx="1.8" ry="2.8" transform="rotate(25 851.5 897)" stroke-width="1.49"/>
<path d="M841 893L846 892" stroke-width="1.38"/>
<path d="M824 915C822.3 914 817 910 814 909C811 908 808.3 908 806 909C803.7 910 801.5 912.2 800 915C798.5 917.8 797.5 921.8 797 926C796.5 930.2 796.3 935.7 797 940C797.7 944.3 799.2 948.8 801 952C802.8 955.2 805.3 957.3 808 959C810.7 960.7 815.5 961.5 817 962" stroke-width="1.72"/>
<ellipse cx="826" cy="937.5" rx="16.5" ry="24" transform="rotate(-18 826 937.5)" stroke-width="1.84"/>
<ellipse cx="826" cy="937.5" rx="12.5" ry="18.5" transform="rotate(-18 826 937.5)" stroke-width="1.49"/>
<ellipse cx="826" cy="937.5" rx="7.5" ry="11" transform="rotate(-18 826 937.5)" stroke-width="1.72"/>
<ellipse cx="826" cy="937.5" rx="5.2" ry="8" transform="rotate(-18 826 937.5)" stroke-width="1.49"/>
<ellipse cx="829.1" cy="947" rx="1.5" ry="1.8" stroke-width="1.26"/>
<ellipse cx="820.2" cy="947.9" rx="1.5" ry="1.8" stroke-width="1.26"/>
<ellipse cx="813.6" cy="944.8" rx="1.5" ry="1.8" stroke-width="1.26"/>
<ellipse cx="811.7" cy="938.9" rx="1.5" ry="1.8" stroke-width="1.26"/>
<ellipse cx="815.2" cy="932.5" rx="1.5" ry="1.8" stroke-width="1.26"/>
<ellipse cx="822.9" cy="928" rx="1.5" ry="1.8" stroke-width="1.26"/>
<ellipse cx="831.8" cy="927.1" rx="1.5" ry="1.8" stroke-width="1.26"/>
<ellipse cx="838.4" cy="930.2" rx="1.5" ry="1.8" stroke-width="1.26"/>
<ellipse cx="840.3" cy="936.1" rx="1.5" ry="1.8" stroke-width="1.26"/>
<ellipse cx="836.8" cy="942.5" rx="1.5" ry="1.8" stroke-width="1.26"/>
<path d="M811 940L812 951" stroke-width="1.38"/>
<ellipse cx="858" cy="955" rx="17" ry="23" transform="rotate(-25 858 955)" stroke-width="1.84"/>
<ellipse cx="858.5" cy="956" rx="7.6" ry="10.8" transform="rotate(-25 858.5 956)" stroke-width="1.72"/>
<path d="M844 938C843.3 939.7 840.7 944 840 948C839.3 952 839.2 958 840 962C840.8 966 844.2 970.3 845 972" stroke-width="1.49"/>
<path d="M890 963C888.7 962.8 884 961.2 882 962C880 962.8 878.8 965.5 878 968C877.2 970.5 876.7 974 877 977C877.3 980 878.3 983.5 880 986C881.7 988.5 885.8 991 887 992" stroke-width="1.72"/>
<ellipse cx="893.5" cy="977.5" rx="11" ry="15.5" transform="rotate(-20 893.5 977.5)" stroke-width="1.84"/>
<path d="M898 970C897.2 969.9 894.3 968.8 893 969.5C891.7 970.2 890.5 972.1 890 974C889.5 975.9 889.3 979.1 890 981C890.7 982.9 893.3 984.8 894 985.5" stroke-width="1.61"/>
<path d="M886 964C885.3 965.2 882.7 967.8 882 971C881.3 974.2 882 981 882 983" stroke-width="1.38"/>
<path d="M915.2 979.4C915.8 978.8 917.4 976.5 918.8 975.8C920.2 975.1 922.4 974.7 923.8 975.1C925.2 975.5 926.8 977.5 927.4 978" stroke-width="1.72"/>
<path d="M927.4 978 L936.8 973 L948.3 967.6 L951.1 968 L961.2 973.7 L964.8 978 L965.2 991 L962.6 993.8 L942.5 1003.9" stroke-width="1.72"/>
<path d="M942.5 1003.9C942.1 1004.6 941 1006.9 940.4 1008.2C939.8 1009.5 939.8 1010.7 938.9 1011.8C938 1012.9 936.6 1013.9 935.3 1014.7C934 1015.5 932.4 1016.6 931 1016.8C929.6 1017 927.7 1016 926.7 1016.1C925.8 1016.2 926 1017.4 925.3 1017.5C924.6 1017.6 924.9 1016.3 922.4 1016.8C919.9 1017.3 912.8 1020.3 910.2 1020.4C907.6 1020.5 907.3 1018.8 906.6 1017.5C905.9 1016.2 905.6 1013.8 905.8 1012.5C906 1011.2 909.3 1009.7 908 1009.6C906.7 1009.5 900.5 1011.8 897.9 1011.8C895.3 1011.8 893.3 1010.8 892.2 1009.6C891.1 1008.4 891.1 1006 891.5 1004.6C891.9 1003.2 891.2 1003 894.3 1001C897.4 999 907 994.8 910.2 992.4C913.5 990 913 988.8 913.8 986.6C914.6 984.4 915 980.6 915.2 979.4" stroke-width="1.72"/>
<ellipse cx="921" cy="993.5" rx="4.9" ry="7.9" transform="rotate(30 921 993.5)" stroke-width="1.72"/>
<path d="M927.4 983.8 L932 982.5 L935.3 982.3 L941.8 990.2 L964.1 978.7" stroke-width="1.61"/>
<path d="M964.8 978L958 981.5" stroke-width="1.38"/>
<path d="M938 999.5C937.4 999.4 935.5 998.5 934.5 999C933.5 999.5 932.5 1001.2 932.3 1002.5C932 1003.8 932.3 1006 933 1007C933.7 1008 935.9 1008.3 936.5 1008.6" stroke-width="1.61"/>
<path d="M917 979C917.8 978.6 920.8 976.8 922 976.5C923.2 976.2 924.1 976.9 924.5 977" stroke-width="1.49"/>
<path d="M948.5 974L948.8 982" stroke-width="1.38"/>
<path d="M949 978C949.3 977.7 950.3 976 951 976C951.7 976 952.6 977.2 953 978C953.4 978.8 953.4 980.5 953.5 981" stroke-width="1.38"/>
<path d="M953 976L959 973.5" stroke-width="1.38"/>
<path d="M893 1003C892.9 1003.7 892.3 1005.8 892.5 1007C892.7 1008.2 893.8 1009.5 894 1010" stroke-width="1.38"/>
<path d="M907 1012C906.9 1012.5 906.3 1014 906.5 1015C906.7 1016 907.8 1017.5 908 1018" stroke-width="1.38"/>
<ellipse cx="965" cy="975" rx="1.1" ry="2.3" transform="rotate(-31 965 975)" stroke-width="1.26"/>
<ellipse cx="967.4" cy="973.5" rx="1.1" ry="2.3" transform="rotate(-31 967.4 973.5)" stroke-width="1.26"/>
<ellipse cx="969.8" cy="972.1" rx="1.1" ry="2.3" transform="rotate(-31 969.8 972.1)" stroke-width="1.26"/>
<ellipse cx="972.2" cy="970.6" rx="1.1" ry="2.3" transform="rotate(-31 972.2 970.6)" stroke-width="1.26"/>
<ellipse cx="974.6" cy="969.2" rx="1.1" ry="2.3" transform="rotate(-31 974.6 969.2)" stroke-width="1.26"/>
<ellipse cx="977" cy="967.7" rx="1.1" ry="2.3" transform="rotate(-31 977 967.7)" stroke-width="1.26"/>
<ellipse cx="979.5" cy="966.3" rx="1.1" ry="2.3" transform="rotate(-31 979.5 966.3)" stroke-width="1.26"/>
<ellipse cx="981.9" cy="964.8" rx="1.1" ry="2.3" transform="rotate(-31 981.9 964.8)" stroke-width="1.26"/>
<ellipse cx="984.3" cy="963.4" rx="1.1" ry="2.3" transform="rotate(-31 984.3 963.4)" stroke-width="1.26"/>
<ellipse cx="986.7" cy="961.9" rx="1.1" ry="2.3" transform="rotate(-31 986.7 961.9)" stroke-width="1.26"/>
<ellipse cx="989.1" cy="960.5" rx="1.1" ry="2.3" transform="rotate(-31 989.1 960.5)" stroke-width="1.26"/>
<ellipse cx="991.5" cy="959" rx="1.1" ry="2.3" transform="rotate(-31 991.5 959)" stroke-width="1.26"/>
<path d="M964 973L990.5 957" stroke-width="1.15"/>
<path d="M966 977L992.5 961" stroke-width="1.15"/>
<path d="M943 1043.5C943.5 1042.9 945.3 1042.2 946 1040C946.7 1037.8 946.5 1033.3 947 1030C947.5 1026.7 948.3 1022.8 949 1020C949.7 1017.2 950 1015.8 951.2 1013.5C952.5 1011.2 954.4 1008 956.5 1006C958.6 1004 961.8 1002 964 1001.5C966.2 1001 968.5 1001.8 970 1003C971.5 1004.2 972 1005.8 973 1009C974 1012.2 975.4 1019 976 1022.5C976.6 1026 976.6 1028.8 976.8 1030" stroke-width="1.72"/>
<path d="M976.8 1030 L970 1031.5 L946.8 1045 L943 1043.5" stroke-width="1.72"/>
<ellipse cx="962.6" cy="1016" rx="3" ry="6.2" transform="rotate(25 962.6 1016)" stroke-width="1.61"/>
<ellipse cx="963" cy="1028.5" rx="5" ry="2" transform="rotate(-25 963 1028.5)" stroke-width="1.61"/>
<path d="M962 1004L968 1002" stroke-width="1.38"/>
<path d="M1002 921C1002.7 920.8 1002.8 919 1006 920C1009.2 921 1018.2 925.2 1021 927C1023.8 928.8 1022.4 926.3 1023 931C1023.6 935.7 1024.8 948.5 1024.8 955C1024.7 961.5 1023.6 967.2 1022.5 970C1021.4 972.8 1020.8 972.5 1018 972C1015.2 971.5 1008.5 968.3 1006 967C1003.5 965.7 1003.7 971.7 1003 964C1002.3 956.3 1002.2 928.2 1002 921" stroke-width="1.72"/>
<path d="M1006 930 L1016 934 L1016 941 L1006 939Z" stroke-width="1.49"/>
<path d="M1007 953 L1015 955 L1016 963 L1008 961Z" stroke-width="1.49"/>
<path d="M1011 945C1010.7 945.2 1009.3 945.3 1009 946C1008.7 946.7 1008.7 948.3 1009 949C1009.3 949.7 1010.7 949.8 1011 950" stroke-width="1.38"/>
<path d="M1023 940L1025 950" stroke-width="2.3"/>
<ellipse cx="1054" cy="933" rx="7.5" ry="9.5" transform="rotate(-20 1054 933)" stroke-width="1.84"/>
<path d="M1056 924C1056.7 924.3 1058.8 924.7 1060 926C1061.2 927.3 1062.7 929.8 1063 932C1063.3 934.2 1062.8 937.2 1062 939C1061.2 940.8 1058.7 942.3 1058 943" stroke-width="1.61"/>
<ellipse cx="1053" cy="932" rx="2.2" ry="2.5" stroke-width="1.38" fill="#000"/>
<ellipse cx="1084" cy="918.5" rx="4.5" ry="6.5" transform="rotate(-30 1084 918.5)" stroke-width="1.84"/>
<path d="M1081 912.5 L1095 904" stroke-width="1.72"/>
<path d="M1088 924 L1101 916" stroke-width="1.72"/>
<path d="M1095 904C1095.8 904 1098.6 903.3 1100 904C1101.4 904.7 1103 906.5 1103.5 908C1104 909.5 1103.4 911.7 1103 913C1102.6 914.3 1101.3 915.5 1101 916" stroke-width="1.84"/>
<ellipse cx="1084" cy="918.5" rx="1.6" ry="2.3" transform="rotate(-30 1084 918.5)" stroke-width="1.49"/>
<path d="M1016.6 1038.1 L1173.9 1127.7" stroke-width="1.84"/>
<path d="M1009.6 1050.3 L1160 1135.9" stroke-width="1.84"/>
<path d="M994 1025.2 L1016.6 1038.1" stroke-width="1.61"/>
<path d="M987 1037.4 L1009.6 1050.3" stroke-width="1.61"/>
<ellipse cx="989.6" cy="1030.8" rx="4.2" ry="7" transform="rotate(29.7 989.6 1030.8)" stroke-width="1.72"/>
<path d="M995.7 1026.2 L989.8 1039" stroke-width="1.49"/>
<path d="M998.2 1027.7 L992.3 1040.4" stroke-width="1.49"/>
<path d="M1000.7 1029.1 L994.9 1041.9" stroke-width="1.49"/>
<path d="M1003.3 1030.5 L997.4 1043.3" stroke-width="1.49"/>
<path d="M1005.8 1032 L999.9 1044.7" stroke-width="1.49"/>
<path d="M1008.3 1033.4 L1002.4 1046.2" stroke-width="1.49"/>
<path d="M1010.8 1034.8 L1004.9 1047.6" stroke-width="1.49"/>
<path d="M1013.3 1036.3 L1007.5 1049" stroke-width="1.49"/>
<path d="M1015.9 1037.7 L1010 1050.5" stroke-width="1.49"/>
<ellipse cx="1174.5" cy="1136.6" rx="9.3" ry="15.3" transform="rotate(29.7 1174.5 1136.6)" stroke-width="1.84"/>
<ellipse cx="1175.2" cy="1137" rx="7.9" ry="13.8" transform="rotate(29.7 1175.2 1137)" stroke-width="1.38"/>
<ellipse cx="1182.3" cy="1141" rx="7" ry="11.4" transform="rotate(29.7 1182.3 1141)" stroke-width="1.84"/>
<path d="M1174.2 1129.5L1182.5 1131.8" stroke-width="1.49"/>
<path d="M1167.5 1141.3L1174.2 1143.6" stroke-width="1.49"/>
<path d="M1174.2 1143.6L1175 1150.2" stroke-width="1.49"/>
<path d="M1174.2 1129.5L1172 1135" stroke-width="1.38"/>
<path d="M1012.4 740.9C1012.3 740.8 1011.6 740.7 1011.6 740.1C1011.6 739.5 1011.5 738.6 1012.4 737.5C1013.3 736.4 1014.6 735.2 1016.9 733.8C1019.2 732.2 1024.2 729 1026.2 728.5C1028.3 728 1028.4 729.5 1029.2 730.8C1030.1 732 1030.8 735.1 1031.1 736" stroke-width="1.84"/>
<path d="M1031.1 736C1031.4 736.1 1032.1 736 1033 736.4C1033.9 736.8 1035.9 737.1 1036.8 738.2C1037.6 739.4 1038.2 741.5 1038.2 743.1C1038.2 744.7 1038.8 745.7 1036.8 747.6C1034.8 749.5 1028.9 752.7 1026.2 754.4C1023.6 756.1 1022.4 757.3 1020.6 757.8C1018.9 758.2 1016.8 757.9 1015.8 757C1014.8 756.1 1014.5 754.2 1014.6 752.5C1014.7 750.8 1015.9 748.5 1016.5 746.9C1017.1 745.3 1018 744.1 1018 743.1C1018 742.1 1017.4 741.3 1016.5 740.9C1015.6 740.5 1013.1 740.9 1012.4 740.9" stroke-width="1.84"/>
<path d="M1021.4 743.5L1031.5 737.5" stroke-width="1.61"/>
<path d="M1018 743.5L1022 747.6" stroke-width="1.61"/>
<path d="M1112.9 658.6C1112.8 657.5 1112.1 653.6 1112.4 651.7C1112.7 649.8 1113.8 648.2 1114.7 647.2C1115.6 646.2 1116.8 645.6 1117.9 645.6C1119.1 645.6 1120.7 646.3 1121.6 647.2C1122.5 648.1 1123 648.9 1123.4 650.8C1123.8 652.7 1123.8 657.3 1123.9 658.6" stroke-width="1.84"/>
<path d="M1112.6 653.5 L1116 654.5 L1122.5 653.2 L1123.8 655 L1123.8 660.6 L1112.8 660.6Z" stroke-width="1.15" fill="#000"/>
<ellipse cx="1115" cy="656.5" rx="0.6" ry="1.2" stroke-width="0.92" fill="#fff"/>
<ellipse cx="1119" cy="657" rx="0.9" ry="1.6" stroke-width="0.92" fill="#fff"/>
<path d="M1112.4 661.8C1112.2 663.2 1111.3 667.5 1111 670C1110.7 672.5 1110.4 675.1 1110.6 677C1110.8 678.9 1111.4 680 1112 681.5C1112.6 683 1113.1 684.9 1114.2 685.7C1115.3 686.6 1117.3 686.7 1118.8 686.6C1120.3 686.5 1122.4 686.4 1123.4 685.2C1124.4 684 1124.5 681.3 1124.8 679.2C1125.1 677.1 1125.3 674.8 1125.2 672.4C1125.1 670 1124.6 666.5 1124.3 664.6C1124 662.7 1123.6 661.5 1123.4 660.9" stroke-width="1.84"/>
<path d="M1112.2 682C1112.8 681.9 1114.5 681.4 1116 681.2C1117.5 681 1119.6 680.9 1121 681C1122.4 681.1 1123.9 681.8 1124.5 682" stroke-width="1.61"/>
<path d="M1091.9 516.7C1090.9 516.8 1087.7 516.7 1086 517.5C1084.3 518.3 1082.8 519.8 1081.8 521.5C1080.8 523.2 1080.4 525.8 1080.2 528C1080 530.2 1080.5 533.8 1080.6 534.9" stroke-width="1.84"/>
<path d="M1091.9 516.7 L1146.4 547.1" stroke-width="1.84"/>
<path d="M1080.6 534.9 L1136.6 567.4" stroke-width="1.84"/>
<ellipse cx="1143" cy="558" rx="6.8" ry="10.9" transform="rotate(29.2 1143 558)" stroke-width="1.84"/>
<ellipse cx="1141.8" cy="558.3" rx="3" ry="5" transform="rotate(29.2 1141.8 558.3)" stroke-width="1.61"/>
<ellipse cx="1141.4" cy="558.5" rx="2.2" ry="3.9" transform="rotate(29.2 1141.4 558.5)" stroke-width="1.38"/>
<path d="M1187 566.6C1185.8 565.5 1182.4 561.5 1180 560C1177.6 558.5 1174.9 557.7 1172.4 557.7C1169.9 557.7 1167.2 558.5 1165 560C1162.8 561.5 1160.2 564.5 1159 567C1157.8 569.5 1157.6 572.4 1157.7 575C1157.8 577.6 1158.4 580.8 1159.4 582.9C1160.5 585 1162 586.4 1164 587.5C1166 588.6 1169.2 589.2 1171.5 589.4C1173.8 589.6 1176.9 588.6 1178 588.5" stroke-width="1.84"/>
<ellipse cx="1181.5" cy="576.5" rx="7" ry="12.7" transform="rotate(18 1181.5 576.5)" stroke-width="1.84"/>
<ellipse cx="1177.8" cy="578" rx="5.4" ry="10" transform="rotate(18 1177.8 578)" stroke-width="1.61"/>
<ellipse cx="1176.8" cy="578.6" rx="4.4" ry="8.8" transform="rotate(18 1176.8 578.6)" stroke-width="1.38"/>
<path d="M524.2 1035 L536.7 1015.1 L540.2 1017.1 L563.6 1004.4 L565.8 1005.7 L565.8 1022.3 L540.2 1037.6 L539.3 1042.7Z" stroke-width="1.38" fill="#000"/>
<text transform="translate(539.6 1034.6) skewY(-22) skewX(-6) scale(0.62 1)" font-family="Liberation Sans, sans-serif" font-weight="bold" font-size="17.5" fill="#fff" stroke="none">FWD</text>
<path d="M526.5 1034.5L536.8 1018.8M540.5 1019.5L562.5 1007.5" stroke="#fff" stroke-width="0.6" stroke-dasharray="1 1"/>
</g>
<g font-family="Liberation Sans, sans-serif" font-size="18.5" fill="#000" stroke="#000" stroke-width="0.35" text-anchor="middle">
<text x="405.6" y="90.7">12</text>
<text x="431.2" y="101.9">11</text>
<text x="458.8" y="119.4">23</text>
<text x="504.8" y="134.4">20</text>
<text x="594.2" y="71.9">21</text>
<text x="622.8" y="71.9">22</text>
<text x="649.8" y="46.9">27</text>
<text x="681" y="164.4">2</text>
<text x="626.8" y="186.9">3</text>
<text x="424.4" y="244.4">28</text>
<text x="566.8" y="284.4">4</text>
<text x="594.5" y="305.4">5</text>
<text x="915.5" y="141.3">24</text>
<text x="721" y="379.4">14</text>
<text x="1151" y="444.4">1</text>
<text x="1125.5" y="503.4">13</text>
<text x="1172.5" y="529.7">14</text>
<text x="1165" y="669.4">25</text>
<text x="594" y="716.6">18</text>
<text x="555.5" y="845">9</text>
<text x="516.5" y="870.4">7</text>
<text x="753.8" y="768.9">17</text>
<text x="850.7" y="856.8">19</text>
<text x="624.8" y="942.9">6</text>
<text x="890" y="922.9">10</text>
<text x="934.8" y="937.1">20</text>
<text x="1010" y="888.4">21</text>
<text x="1051.2" y="889.4">22</text>
<text x="1088.2" y="871.4">27</text>
<text x="818.5" y="1004.6">15</text>
<text x="853.1" y="1025.9">16</text>
<text x="957.5" y="1089.4">23</text>
<text x="1072" y="1142.6">8</text>
<text x="1024" y="794.4">26</text>
</g>
</svg>
</body></html>
